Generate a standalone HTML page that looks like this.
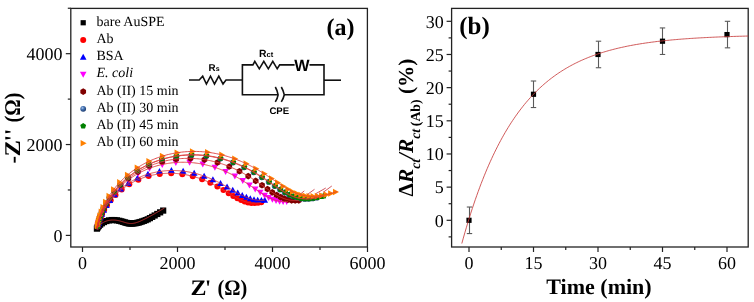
<!DOCTYPE html><html><head><meta charset="utf-8"><style>html,body{margin:0;padding:0;background:#fff;overflow:hidden}svg{display:block;will-change:transform}text{text-rendering:geometricPrecision}</style></head><body><svg width="754" height="302" viewBox="0 0 754 302"><defs><radialGradient id="sph" cx="0.38" cy="0.35" r="0.7"><stop offset="0" stop-color="#b8d0f0"/><stop offset="0.35" stop-color="#4a78b8"/><stop offset="1" stop-color="#183668"/></radialGradient><clipPath id="lc"><rect x="70.8" y="8.4" width="296.59999999999997" height="238.6"/></clipPath><clipPath id="rc"><rect x="451.6" y="8.4" width="296.6" height="238.6"/></clipPath></defs><rect width="754" height="302" fill="#fff"/><g clip-path="url(#lc)"><rect transform="translate(96.92 228.63)" x="-3.1" y="-3.1" width="6.2" height="6.2" fill="#000"/><rect transform="translate(97.69 227.40)" x="-3.1" y="-3.1" width="6.2" height="6.2" fill="#000"/><rect transform="translate(98.74 226.06)" x="-3.1" y="-3.1" width="6.2" height="6.2" fill="#000"/><rect transform="translate(100.12 224.67)" x="-3.1" y="-3.1" width="6.2" height="6.2" fill="#000"/><rect transform="translate(101.86 223.30)" x="-3.1" y="-3.1" width="6.2" height="6.2" fill="#000"/><rect transform="translate(103.97 222.06)" x="-3.1" y="-3.1" width="6.2" height="6.2" fill="#000"/><rect transform="translate(106.39 221.06)" x="-3.1" y="-3.1" width="6.2" height="6.2" fill="#000"/><rect transform="translate(109.03 220.38)" x="-3.1" y="-3.1" width="6.2" height="6.2" fill="#000"/><rect transform="translate(111.75 220.05)" x="-3.1" y="-3.1" width="6.2" height="6.2" fill="#000"/><rect transform="translate(114.43 220.06)" x="-3.1" y="-3.1" width="6.2" height="6.2" fill="#000"/><rect transform="translate(116.96 220.34)" x="-3.1" y="-3.1" width="6.2" height="6.2" fill="#000"/><rect transform="translate(119.27 220.80)" x="-3.1" y="-3.1" width="6.2" height="6.2" fill="#000"/><rect transform="translate(121.36 221.35)" x="-3.1" y="-3.1" width="6.2" height="6.2" fill="#000"/><rect transform="translate(123.22 221.91)" x="-3.1" y="-3.1" width="6.2" height="6.2" fill="#000"/><rect transform="translate(124.90 222.43)" x="-3.1" y="-3.1" width="6.2" height="6.2" fill="#000"/><rect transform="translate(126.43 222.87)" x="-3.1" y="-3.1" width="6.2" height="6.2" fill="#000"/><rect transform="translate(127.86 223.20)" x="-3.1" y="-3.1" width="6.2" height="6.2" fill="#000"/><rect transform="translate(129.21 223.41)" x="-3.1" y="-3.1" width="6.2" height="6.2" fill="#000"/><rect transform="translate(130.52 223.51)" x="-3.1" y="-3.1" width="6.2" height="6.2" fill="#000"/><rect transform="translate(131.82 223.49)" x="-3.1" y="-3.1" width="6.2" height="6.2" fill="#000"/><rect transform="translate(133.13 223.37)" x="-3.1" y="-3.1" width="6.2" height="6.2" fill="#000"/><rect transform="translate(134.46 223.29)" x="-3.1" y="-3.1" width="6.2" height="6.2" fill="#000"/><rect transform="translate(135.84 223.12)" x="-3.1" y="-3.1" width="6.2" height="6.2" fill="#000"/><rect transform="translate(137.28 222.84)" x="-3.1" y="-3.1" width="6.2" height="6.2" fill="#000"/><rect transform="translate(138.78 222.48)" x="-3.1" y="-3.1" width="6.2" height="6.2" fill="#000"/><rect transform="translate(140.36 222.02)" x="-3.1" y="-3.1" width="6.2" height="6.2" fill="#000"/><rect transform="translate(142.04 221.48)" x="-3.1" y="-3.1" width="6.2" height="6.2" fill="#000"/><rect transform="translate(143.82 220.86)" x="-3.1" y="-3.1" width="6.2" height="6.2" fill="#000"/><rect transform="translate(145.71 220.14)" x="-3.1" y="-3.1" width="6.2" height="6.2" fill="#000"/><rect transform="translate(147.73 219.30)" x="-3.1" y="-3.1" width="6.2" height="6.2" fill="#000"/><rect transform="translate(149.89 218.14)" x="-3.1" y="-3.1" width="6.2" height="6.2" fill="#000"/><rect transform="translate(152.20 216.87)" x="-3.1" y="-3.1" width="6.2" height="6.2" fill="#000"/><rect transform="translate(154.67 215.49)" x="-3.1" y="-3.1" width="6.2" height="6.2" fill="#000"/><rect transform="translate(157.31 213.98)" x="-3.1" y="-3.1" width="6.2" height="6.2" fill="#000"/><rect transform="translate(160.14 212.35)" x="-3.1" y="-3.1" width="6.2" height="6.2" fill="#000"/><rect transform="translate(163.18 210.58)" x="-3.1" y="-3.1" width="6.2" height="6.2" fill="#000"/><circle transform="translate(97.57 226.62)" r="3" fill="#f00"/><circle transform="translate(98.02 224.84)" r="3" fill="#f00"/><circle transform="translate(98.63 222.71)" r="3" fill="#f00"/><circle transform="translate(99.45 220.19)" r="3" fill="#f00"/><circle transform="translate(100.58 217.23)" r="3" fill="#f00"/><circle transform="translate(102.11 213.77)" r="3" fill="#f00"/><circle transform="translate(104.18 209.79)" r="3" fill="#f00"/><circle transform="translate(106.98 205.28)" r="3" fill="#f00"/><circle transform="translate(110.68 200.29)" r="3" fill="#f00"/><circle transform="translate(115.53 194.96)" r="3" fill="#f00"/><circle transform="translate(121.69 189.51)" r="3" fill="#f00"/><circle transform="translate(129.31 184.27)" r="3" fill="#f00"/><circle transform="translate(138.37 179.65)" r="3" fill="#f00"/><circle transform="translate(148.65 176.08)" r="3" fill="#f00"/><circle transform="translate(159.77 173.89)" r="3" fill="#f00"/><circle transform="translate(171.19 173.27)" r="3" fill="#f00"/><circle transform="translate(182.33 174.15)" r="3" fill="#f00"/><circle transform="translate(192.74 176.30)" r="3" fill="#f00"/><circle transform="translate(202.11 179.32)" r="3" fill="#f00"/><circle transform="translate(210.31 182.83)" r="3" fill="#f00"/><circle transform="translate(217.39 186.48)" r="3" fill="#f00"/><circle transform="translate(223.46 189.99)" r="3" fill="#f00"/><circle transform="translate(228.71 193.19)" r="3" fill="#f00"/><circle transform="translate(233.29 195.97)" r="3" fill="#f00"/><circle transform="translate(237.39 198.28)" r="3" fill="#f00"/><circle transform="translate(241.14 200.11)" r="3" fill="#f00"/><circle transform="translate(244.66 201.48)" r="3" fill="#f00"/><circle transform="translate(248.04 202.41)" r="3" fill="#f00"/><circle transform="translate(251.37 202.92)" r="3" fill="#f00"/><circle transform="translate(254.69 203.05)" r="3" fill="#f00"/><circle transform="translate(258.08 202.82)" r="3" fill="#f00"/><circle transform="translate(261.25 202.32)" r="3" fill="#f00"/><path transform="translate(98.20 225.23)" d="M0,-3.4 L3.3,2.6 L-3.3,2.6Z" fill="#00f"/><path transform="translate(98.72 223.13)" d="M0,-3.4 L3.3,2.6 L-3.3,2.6Z" fill="#00f"/><path transform="translate(99.44 220.63)" d="M0,-3.4 L3.3,2.6 L-3.3,2.6Z" fill="#00f"/><path transform="translate(100.45 217.66)" d="M0,-3.4 L3.3,2.6 L-3.3,2.6Z" fill="#00f"/><path transform="translate(101.84 214.17)" d="M0,-3.4 L3.3,2.6 L-3.3,2.6Z" fill="#00f"/><path transform="translate(103.75 210.13)" d="M0,-3.4 L3.3,2.6 L-3.3,2.6Z" fill="#00f"/><path transform="translate(106.37 205.51)" d="M0,-3.4 L3.3,2.6 L-3.3,2.6Z" fill="#00f"/><path transform="translate(109.91 200.35)" d="M0,-3.4 L3.3,2.6 L-3.3,2.6Z" fill="#00f"/><path transform="translate(114.60 194.76)" d="M0,-3.4 L3.3,2.6 L-3.3,2.6Z" fill="#00f"/><path transform="translate(120.66 188.97)" d="M0,-3.4 L3.3,2.6 L-3.3,2.6Z" fill="#00f"/><path transform="translate(128.26 183.31)" d="M0,-3.4 L3.3,2.6 L-3.3,2.6Z" fill="#00f"/><path transform="translate(137.42 178.22)" d="M0,-3.4 L3.3,2.6 L-3.3,2.6Z" fill="#00f"/><path transform="translate(147.96 174.15)" d="M0,-3.4 L3.3,2.6 L-3.3,2.6Z" fill="#00f"/><path transform="translate(159.47 171.51)" d="M0,-3.4 L3.3,2.6 L-3.3,2.6Z" fill="#00f"/><path transform="translate(171.40 170.52)" d="M0,-3.4 L3.3,2.6 L-3.3,2.6Z" fill="#00f"/><path transform="translate(183.14 171.13)" d="M0,-3.4 L3.3,2.6 L-3.3,2.6Z" fill="#00f"/><path transform="translate(194.17 173.12)" d="M0,-3.4 L3.3,2.6 L-3.3,2.6Z" fill="#00f"/><path transform="translate(204.14 176.08)" d="M0,-3.4 L3.3,2.6 L-3.3,2.6Z" fill="#00f"/><path transform="translate(212.91 179.60)" d="M0,-3.4 L3.3,2.6 L-3.3,2.6Z" fill="#00f"/><path transform="translate(220.51 183.29)" d="M0,-3.4 L3.3,2.6 L-3.3,2.6Z" fill="#00f"/><path transform="translate(227.06 186.87)" d="M0,-3.4 L3.3,2.6 L-3.3,2.6Z" fill="#00f"/><path transform="translate(232.74 190.14)" d="M0,-3.4 L3.3,2.6 L-3.3,2.6Z" fill="#00f"/><path transform="translate(237.74 193.00)" d="M0,-3.4 L3.3,2.6 L-3.3,2.6Z" fill="#00f"/><path transform="translate(242.24 195.37)" d="M0,-3.4 L3.3,2.6 L-3.3,2.6Z" fill="#00f"/><path transform="translate(246.37 197.27)" d="M0,-3.4 L3.3,2.6 L-3.3,2.6Z" fill="#00f"/><path transform="translate(250.26 198.69)" d="M0,-3.4 L3.3,2.6 L-3.3,2.6Z" fill="#00f"/><path transform="translate(254.01 199.67)" d="M0,-3.4 L3.3,2.6 L-3.3,2.6Z" fill="#00f"/><path transform="translate(257.70 200.23)" d="M0,-3.4 L3.3,2.6 L-3.3,2.6Z" fill="#00f"/><path transform="translate(261.39 200.40)" d="M0,-3.4 L3.3,2.6 L-3.3,2.6Z" fill="#00f"/><path transform="translate(264.73 200.26)" d="M0,-3.4 L3.3,2.6 L-3.3,2.6Z" fill="#00f"/><path transform="translate(97.44 226.64)" d="M0,3.4 L3.3,-2.6 L-3.3,-2.6Z" fill="#f0f"/><path transform="translate(97.86 224.82)" d="M0,3.4 L3.3,-2.6 L-3.3,-2.6Z" fill="#f0f"/><path transform="translate(98.42 222.65)" d="M0,3.4 L3.3,-2.6 L-3.3,-2.6Z" fill="#f0f"/><path transform="translate(99.19 220.05)" d="M0,3.4 L3.3,-2.6 L-3.3,-2.6Z" fill="#f0f"/><path transform="translate(100.23 216.96)" d="M0,3.4 L3.3,-2.6 L-3.3,-2.6Z" fill="#f0f"/><path transform="translate(101.66 213.32)" d="M0,3.4 L3.3,-2.6 L-3.3,-2.6Z" fill="#f0f"/><path transform="translate(103.61 209.08)" d="M0,3.4 L3.3,-2.6 L-3.3,-2.6Z" fill="#f0f"/><path transform="translate(106.25 204.19)" d="M0,3.4 L3.3,-2.6 L-3.3,-2.6Z" fill="#f0f"/><path transform="translate(109.81 198.67)" d="M0,3.4 L3.3,-2.6 L-3.3,-2.6Z" fill="#f0f"/><path transform="translate(114.55 192.60)" d="M0,3.4 L3.3,-2.6 L-3.3,-2.6Z" fill="#f0f"/><path transform="translate(120.72 186.16)" d="M0,3.4 L3.3,-2.6 L-3.3,-2.6Z" fill="#f0f"/><path transform="translate(128.55 179.65)" d="M0,3.4 L3.3,-2.6 L-3.3,-2.6Z" fill="#f0f"/><path transform="translate(138.18 173.52)" d="M0,3.4 L3.3,-2.6 L-3.3,-2.6Z" fill="#f0f"/><path transform="translate(149.52 168.30)" d="M0,3.4 L3.3,-2.6 L-3.3,-2.6Z" fill="#f0f"/><path transform="translate(162.26 164.49)" d="M0,3.4 L3.3,-2.6 L-3.3,-2.6Z" fill="#f0f"/><path transform="translate(175.85 162.50)" d="M0,3.4 L3.3,-2.6 L-3.3,-2.6Z" fill="#f0f"/><path transform="translate(189.59 162.45)" d="M0,3.4 L3.3,-2.6 L-3.3,-2.6Z" fill="#f0f"/><path transform="translate(202.78 164.21)" d="M0,3.4 L3.3,-2.6 L-3.3,-2.6Z" fill="#f0f"/><path transform="translate(214.89 167.40)" d="M0,3.4 L3.3,-2.6 L-3.3,-2.6Z" fill="#f0f"/><path transform="translate(225.62 171.52)" d="M0,3.4 L3.3,-2.6 L-3.3,-2.6Z" fill="#f0f"/><path transform="translate(234.88 176.10)" d="M0,3.4 L3.3,-2.6 L-3.3,-2.6Z" fill="#f0f"/><path transform="translate(242.77 180.72)" d="M0,3.4 L3.3,-2.6 L-3.3,-2.6Z" fill="#f0f"/><path transform="translate(249.47 185.09)" d="M0,3.4 L3.3,-2.6 L-3.3,-2.6Z" fill="#f0f"/><path transform="translate(255.21 189.03)" d="M0,3.4 L3.3,-2.6 L-3.3,-2.6Z" fill="#f0f"/><path transform="translate(260.19 192.43)" d="M0,3.4 L3.3,-2.6 L-3.3,-2.6Z" fill="#f0f"/><path transform="translate(264.62 195.27)" d="M0,3.4 L3.3,-2.6 L-3.3,-2.6Z" fill="#f0f"/><path transform="translate(268.66 197.54)" d="M0,3.4 L3.3,-2.6 L-3.3,-2.6Z" fill="#f0f"/><path transform="translate(272.43 199.28)" d="M0,3.4 L3.3,-2.6 L-3.3,-2.6Z" fill="#f0f"/><path transform="translate(276.05 200.51)" d="M0,3.4 L3.3,-2.6 L-3.3,-2.6Z" fill="#f0f"/><path transform="translate(279.59 201.29)" d="M0,3.4 L3.3,-2.6 L-3.3,-2.6Z" fill="#f0f"/><path transform="translate(283.12 201.64)" d="M0,3.4 L3.3,-2.6 L-3.3,-2.6Z" fill="#f0f"/><path transform="translate(286.71 201.61)" d="M0,3.4 L3.3,-2.6 L-3.3,-2.6Z" fill="#f0f"/><path transform="translate(97.66 226.38)" d="M0,-3.3 L2.85,-1.65 L2.85,1.65 L0,3.3 L-2.85,1.65 L-2.85,-1.65Z" fill="#800000"/><path transform="translate(98.08 224.54)" d="M0,-3.3 L2.85,-1.65 L2.85,1.65 L0,3.3 L-2.85,1.65 L-2.85,-1.65Z" fill="#800000"/><path transform="translate(98.66 222.33)" d="M0,-3.3 L2.85,-1.65 L2.85,1.65 L0,3.3 L-2.85,1.65 L-2.85,-1.65Z" fill="#800000"/><path transform="translate(99.43 219.70)" d="M0,-3.3 L2.85,-1.65 L2.85,1.65 L0,3.3 L-2.85,1.65 L-2.85,-1.65Z" fill="#800000"/><path transform="translate(100.48 216.58)" d="M0,-3.3 L2.85,-1.65 L2.85,1.65 L0,3.3 L-2.85,1.65 L-2.85,-1.65Z" fill="#800000"/><path transform="translate(101.90 212.91)" d="M0,-3.3 L2.85,-1.65 L2.85,1.65 L0,3.3 L-2.85,1.65 L-2.85,-1.65Z" fill="#800000"/><path transform="translate(103.82 208.62)" d="M0,-3.3 L2.85,-1.65 L2.85,1.65 L0,3.3 L-2.85,1.65 L-2.85,-1.65Z" fill="#800000"/><path transform="translate(106.43 203.68)" d="M0,-3.3 L2.85,-1.65 L2.85,1.65 L0,3.3 L-2.85,1.65 L-2.85,-1.65Z" fill="#800000"/><path transform="translate(109.92 198.09)" d="M0,-3.3 L2.85,-1.65 L2.85,1.65 L0,3.3 L-2.85,1.65 L-2.85,-1.65Z" fill="#800000"/><path transform="translate(114.56 191.90)" d="M0,-3.3 L2.85,-1.65 L2.85,1.65 L0,3.3 L-2.85,1.65 L-2.85,-1.65Z" fill="#800000"/><path transform="translate(120.60 185.27)" d="M0,-3.3 L2.85,-1.65 L2.85,1.65 L0,3.3 L-2.85,1.65 L-2.85,-1.65Z" fill="#800000"/><path transform="translate(128.31 178.49)" d="M0,-3.3 L2.85,-1.65 L2.85,1.65 L0,3.3 L-2.85,1.65 L-2.85,-1.65Z" fill="#800000"/><path transform="translate(137.84 171.96)" d="M0,-3.3 L2.85,-1.65 L2.85,1.65 L0,3.3 L-2.85,1.65 L-2.85,-1.65Z" fill="#800000"/><path transform="translate(149.18 166.20)" d="M0,-3.3 L2.85,-1.65 L2.85,1.65 L0,3.3 L-2.85,1.65 L-2.85,-1.65Z" fill="#800000"/><path transform="translate(162.08 161.75)" d="M0,-3.3 L2.85,-1.65 L2.85,1.65 L0,3.3 L-2.85,1.65 L-2.85,-1.65Z" fill="#800000"/><path transform="translate(176.06 159.06)" d="M0,-3.3 L2.85,-1.65 L2.85,1.65 L0,3.3 L-2.85,1.65 L-2.85,-1.65Z" fill="#800000"/><path transform="translate(190.42 158.37)" d="M0,-3.3 L2.85,-1.65 L2.85,1.65 L0,3.3 L-2.85,1.65 L-2.85,-1.65Z" fill="#800000"/><path transform="translate(204.45 159.63)" d="M0,-3.3 L2.85,-1.65 L2.85,1.65 L0,3.3 L-2.85,1.65 L-2.85,-1.65Z" fill="#800000"/><path transform="translate(217.54 162.51)" d="M0,-3.3 L2.85,-1.65 L2.85,1.65 L0,3.3 L-2.85,1.65 L-2.85,-1.65Z" fill="#800000"/><path transform="translate(229.27 166.55)" d="M0,-3.3 L2.85,-1.65 L2.85,1.65 L0,3.3 L-2.85,1.65 L-2.85,-1.65Z" fill="#800000"/><path transform="translate(239.50 171.25)" d="M0,-3.3 L2.85,-1.65 L2.85,1.65 L0,3.3 L-2.85,1.65 L-2.85,-1.65Z" fill="#800000"/><path transform="translate(248.25 176.13)" d="M0,-3.3 L2.85,-1.65 L2.85,1.65 L0,3.3 L-2.85,1.65 L-2.85,-1.65Z" fill="#800000"/><path transform="translate(255.69 180.87)" d="M0,-3.3 L2.85,-1.65 L2.85,1.65 L0,3.3 L-2.85,1.65 L-2.85,-1.65Z" fill="#800000"/><path transform="translate(262.02 185.23)" d="M0,-3.3 L2.85,-1.65 L2.85,1.65 L0,3.3 L-2.85,1.65 L-2.85,-1.65Z" fill="#800000"/><path transform="translate(267.48 189.06)" d="M0,-3.3 L2.85,-1.65 L2.85,1.65 L0,3.3 L-2.85,1.65 L-2.85,-1.65Z" fill="#800000"/><path transform="translate(272.28 192.33)" d="M0,-3.3 L2.85,-1.65 L2.85,1.65 L0,3.3 L-2.85,1.65 L-2.85,-1.65Z" fill="#800000"/><path transform="translate(276.59 195.00)" d="M0,-3.3 L2.85,-1.65 L2.85,1.65 L0,3.3 L-2.85,1.65 L-2.85,-1.65Z" fill="#800000"/><path transform="translate(280.57 197.10)" d="M0,-3.3 L2.85,-1.65 L2.85,1.65 L0,3.3 L-2.85,1.65 L-2.85,-1.65Z" fill="#800000"/><path transform="translate(284.34 198.67)" d="M0,-3.3 L2.85,-1.65 L2.85,1.65 L0,3.3 L-2.85,1.65 L-2.85,-1.65Z" fill="#800000"/><path transform="translate(287.99 199.74)" d="M0,-3.3 L2.85,-1.65 L2.85,1.65 L0,3.3 L-2.85,1.65 L-2.85,-1.65Z" fill="#800000"/><path transform="translate(291.59 200.35)" d="M0,-3.3 L2.85,-1.65 L2.85,1.65 L0,3.3 L-2.85,1.65 L-2.85,-1.65Z" fill="#800000"/><path transform="translate(295.21 200.56)" d="M0,-3.3 L2.85,-1.65 L2.85,1.65 L0,3.3 L-2.85,1.65 L-2.85,-1.65Z" fill="#800000"/><path transform="translate(298.79 200.39)" d="M0,-3.3 L2.85,-1.65 L2.85,1.65 L0,3.3 L-2.85,1.65 L-2.85,-1.65Z" fill="#800000"/><circle transform="translate(97.34 226.45)" r="2.9" fill="url(#sph)"/><circle transform="translate(97.76 224.60)" r="2.9" fill="url(#sph)"/><circle transform="translate(98.33 222.40)" r="2.9" fill="url(#sph)"/><circle transform="translate(99.09 219.76)" r="2.9" fill="url(#sph)"/><circle transform="translate(100.13 216.63)" r="2.9" fill="url(#sph)"/><circle transform="translate(101.53 212.93)" r="2.9" fill="url(#sph)"/><circle transform="translate(103.42 208.60)" r="2.9" fill="url(#sph)"/><circle transform="translate(105.99 203.59)" r="2.9" fill="url(#sph)"/><circle transform="translate(109.43 197.89)" r="2.9" fill="url(#sph)"/><circle transform="translate(114.02 191.54)" r="2.9" fill="url(#sph)"/><circle transform="translate(120.03 184.70)" r="2.9" fill="url(#sph)"/><circle transform="translate(127.72 177.61)" r="2.9" fill="url(#sph)"/><circle transform="translate(137.30 170.68)" r="2.9" fill="url(#sph)"/><circle transform="translate(148.79 164.43)" r="2.9" fill="url(#sph)"/><circle transform="translate(162.01 159.43)" r="2.9" fill="url(#sph)"/><circle transform="translate(176.47 156.19)" r="2.9" fill="url(#sph)"/><circle transform="translate(191.50 155.00)" r="2.9" fill="url(#sph)"/><circle transform="translate(206.35 155.88)" r="2.9" fill="url(#sph)"/><circle transform="translate(220.33 158.53)" r="2.9" fill="url(#sph)"/><circle transform="translate(232.97 162.51)" r="2.9" fill="url(#sph)"/><circle transform="translate(244.07 167.28)" r="2.9" fill="url(#sph)"/><circle transform="translate(253.61 172.34)" r="2.9" fill="url(#sph)"/><circle transform="translate(261.74 177.31)" r="2.9" fill="url(#sph)"/><circle transform="translate(268.67 181.94)" r="2.9" fill="url(#sph)"/><circle transform="translate(274.65 186.05)" r="2.9" fill="url(#sph)"/><circle transform="translate(279.89 189.57)" r="2.9" fill="url(#sph)"/><circle transform="translate(284.59 192.48)" r="2.9" fill="url(#sph)"/><circle transform="translate(288.91 194.80)" r="2.9" fill="url(#sph)"/><circle transform="translate(292.98 196.56)" r="2.9" fill="url(#sph)"/><circle transform="translate(296.90 197.80)" r="2.9" fill="url(#sph)"/><circle transform="translate(300.77 198.56)" r="2.9" fill="url(#sph)"/><circle transform="translate(304.63 198.89)" r="2.9" fill="url(#sph)"/><circle transform="translate(308.55 198.83)" r="2.9" fill="url(#sph)"/><circle transform="translate(312.58 198.40)" r="2.9" fill="url(#sph)"/><circle transform="translate(316.75 197.63)" r="2.9" fill="url(#sph)"/><path transform="translate(97.34 226.45)" d="M0,-3.1 L2.95,-0.96 L1.82,2.5 L-1.82,2.5 L-2.95,-0.96Z" fill="#008000"/><path transform="translate(97.76 224.60)" d="M0,-3.1 L2.95,-0.96 L1.82,2.5 L-1.82,2.5 L-2.95,-0.96Z" fill="#008000"/><path transform="translate(98.33 222.39)" d="M0,-3.1 L2.95,-0.96 L1.82,2.5 L-1.82,2.5 L-2.95,-0.96Z" fill="#008000"/><path transform="translate(99.09 219.76)" d="M0,-3.1 L2.95,-0.96 L1.82,2.5 L-1.82,2.5 L-2.95,-0.96Z" fill="#008000"/><path transform="translate(100.12 216.62)" d="M0,-3.1 L2.95,-0.96 L1.82,2.5 L-1.82,2.5 L-2.95,-0.96Z" fill="#008000"/><path transform="translate(101.52 212.92)" d="M0,-3.1 L2.95,-0.96 L1.82,2.5 L-1.82,2.5 L-2.95,-0.96Z" fill="#008000"/><path transform="translate(103.41 208.59)" d="M0,-3.1 L2.95,-0.96 L1.82,2.5 L-1.82,2.5 L-2.95,-0.96Z" fill="#008000"/><path transform="translate(105.97 203.57)" d="M0,-3.1 L2.95,-0.96 L1.82,2.5 L-1.82,2.5 L-2.95,-0.96Z" fill="#008000"/><path transform="translate(109.41 197.86)" d="M0,-3.1 L2.95,-0.96 L1.82,2.5 L-1.82,2.5 L-2.95,-0.96Z" fill="#008000"/><path transform="translate(113.98 191.51)" d="M0,-3.1 L2.95,-0.96 L1.82,2.5 L-1.82,2.5 L-2.95,-0.96Z" fill="#008000"/><path transform="translate(119.98 184.64)" d="M0,-3.1 L2.95,-0.96 L1.82,2.5 L-1.82,2.5 L-2.95,-0.96Z" fill="#008000"/><path transform="translate(127.67 177.53)" d="M0,-3.1 L2.95,-0.96 L1.82,2.5 L-1.82,2.5 L-2.95,-0.96Z" fill="#008000"/><path transform="translate(137.25 170.56)" d="M0,-3.1 L2.95,-0.96 L1.82,2.5 L-1.82,2.5 L-2.95,-0.96Z" fill="#008000"/><path transform="translate(148.75 164.27)" d="M0,-3.1 L2.95,-0.96 L1.82,2.5 L-1.82,2.5 L-2.95,-0.96Z" fill="#008000"/><path transform="translate(161.99 159.23)" d="M0,-3.1 L2.95,-0.96 L1.82,2.5 L-1.82,2.5 L-2.95,-0.96Z" fill="#008000"/><path transform="translate(176.49 155.94)" d="M0,-3.1 L2.95,-0.96 L1.82,2.5 L-1.82,2.5 L-2.95,-0.96Z" fill="#008000"/><path transform="translate(191.57 154.71)" d="M0,-3.1 L2.95,-0.96 L1.82,2.5 L-1.82,2.5 L-2.95,-0.96Z" fill="#008000"/><path transform="translate(206.49 155.55)" d="M0,-3.1 L2.95,-0.96 L1.82,2.5 L-1.82,2.5 L-2.95,-0.96Z" fill="#008000"/><path transform="translate(220.54 158.19)" d="M0,-3.1 L2.95,-0.96 L1.82,2.5 L-1.82,2.5 L-2.95,-0.96Z" fill="#008000"/><path transform="translate(233.27 162.17)" d="M0,-3.1 L2.95,-0.96 L1.82,2.5 L-1.82,2.5 L-2.95,-0.96Z" fill="#008000"/><path transform="translate(244.43 166.95)" d="M0,-3.1 L2.95,-0.96 L1.82,2.5 L-1.82,2.5 L-2.95,-0.96Z" fill="#008000"/><path transform="translate(254.03 172.03)" d="M0,-3.1 L2.95,-0.96 L1.82,2.5 L-1.82,2.5 L-2.95,-0.96Z" fill="#008000"/><path transform="translate(262.21 177.03)" d="M0,-3.1 L2.95,-0.96 L1.82,2.5 L-1.82,2.5 L-2.95,-0.96Z" fill="#008000"/><path transform="translate(269.19 181.69)" d="M0,-3.1 L2.95,-0.96 L1.82,2.5 L-1.82,2.5 L-2.95,-0.96Z" fill="#008000"/><path transform="translate(275.20 185.83)" d="M0,-3.1 L2.95,-0.96 L1.82,2.5 L-1.82,2.5 L-2.95,-0.96Z" fill="#008000"/><path transform="translate(280.46 189.38)" d="M0,-3.1 L2.95,-0.96 L1.82,2.5 L-1.82,2.5 L-2.95,-0.96Z" fill="#008000"/><path transform="translate(285.18 192.32)" d="M0,-3.1 L2.95,-0.96 L1.82,2.5 L-1.82,2.5 L-2.95,-0.96Z" fill="#008000"/><path transform="translate(289.52 194.67)" d="M0,-3.1 L2.95,-0.96 L1.82,2.5 L-1.82,2.5 L-2.95,-0.96Z" fill="#008000"/><path transform="translate(293.60 196.44)" d="M0,-3.1 L2.95,-0.96 L1.82,2.5 L-1.82,2.5 L-2.95,-0.96Z" fill="#008000"/><path transform="translate(297.54 197.70)" d="M0,-3.1 L2.95,-0.96 L1.82,2.5 L-1.82,2.5 L-2.95,-0.96Z" fill="#008000"/><path transform="translate(301.40 198.48)" d="M0,-3.1 L2.95,-0.96 L1.82,2.5 L-1.82,2.5 L-2.95,-0.96Z" fill="#008000"/><path transform="translate(305.28 198.82)" d="M0,-3.1 L2.95,-0.96 L1.82,2.5 L-1.82,2.5 L-2.95,-0.96Z" fill="#008000"/><path transform="translate(309.20 198.77)" d="M0,-3.1 L2.95,-0.96 L1.82,2.5 L-1.82,2.5 L-2.95,-0.96Z" fill="#008000"/><path transform="translate(313.23 198.35)" d="M0,-3.1 L2.95,-0.96 L1.82,2.5 L-1.82,2.5 L-2.95,-0.96Z" fill="#008000"/><path transform="translate(317.40 197.59)" d="M0,-3.1 L2.95,-0.96 L1.82,2.5 L-1.82,2.5 L-2.95,-0.96Z" fill="#008000"/><path transform="translate(321.75 196.52)" d="M0,-3.1 L2.95,-0.96 L1.82,2.5 L-1.82,2.5 L-2.95,-0.96Z" fill="#008000"/><path transform="translate(323.81 195.92)" d="M0,-3.1 L2.95,-0.96 L1.82,2.5 L-1.82,2.5 L-2.95,-0.96Z" fill="#008000"/><path transform="translate(97.32 225.95)" d="M3.4,0 L-2.6,3.3 L-2.6,-3.3Z" fill="#ff8000"/><path transform="translate(97.70 224.02)" d="M3.4,0 L-2.6,3.3 L-2.6,-3.3Z" fill="#ff8000"/><path transform="translate(98.22 221.71)" d="M3.4,0 L-2.6,3.3 L-2.6,-3.3Z" fill="#ff8000"/><path transform="translate(98.93 218.96)" d="M3.4,0 L-2.6,3.3 L-2.6,-3.3Z" fill="#ff8000"/><path transform="translate(99.91 215.69)" d="M3.4,0 L-2.6,3.3 L-2.6,-3.3Z" fill="#ff8000"/><path transform="translate(101.26 211.82)" d="M3.4,0 L-2.6,3.3 L-2.6,-3.3Z" fill="#ff8000"/><path transform="translate(103.11 207.31)" d="M3.4,0 L-2.6,3.3 L-2.6,-3.3Z" fill="#ff8000"/><path transform="translate(105.64 202.08)" d="M3.4,0 L-2.6,3.3 L-2.6,-3.3Z" fill="#ff8000"/><path transform="translate(109.07 196.14)" d="M3.4,0 L-2.6,3.3 L-2.6,-3.3Z" fill="#ff8000"/><path transform="translate(113.67 189.53)" d="M3.4,0 L-2.6,3.3 L-2.6,-3.3Z" fill="#ff8000"/><path transform="translate(119.73 182.40)" d="M3.4,0 L-2.6,3.3 L-2.6,-3.3Z" fill="#ff8000"/><path transform="translate(127.53 175.02)" d="M3.4,0 L-2.6,3.3 L-2.6,-3.3Z" fill="#ff8000"/><path transform="translate(137.27 167.82)" d="M3.4,0 L-2.6,3.3 L-2.6,-3.3Z" fill="#ff8000"/><path transform="translate(148.98 161.32)" d="M3.4,0 L-2.6,3.3 L-2.6,-3.3Z" fill="#ff8000"/><path transform="translate(162.45 156.12)" d="M3.4,0 L-2.6,3.3 L-2.6,-3.3Z" fill="#ff8000"/><path transform="translate(177.19 152.73)" d="M3.4,0 L-2.6,3.3 L-2.6,-3.3Z" fill="#ff8000"/><path transform="translate(192.51 151.44)" d="M3.4,0 L-2.6,3.3 L-2.6,-3.3Z" fill="#ff8000"/><path transform="translate(207.63 152.26)" d="M3.4,0 L-2.6,3.3 L-2.6,-3.3Z" fill="#ff8000"/><path transform="translate(221.88 154.89)" d="M3.4,0 L-2.6,3.3 L-2.6,-3.3Z" fill="#ff8000"/><path transform="translate(234.79 158.87)" d="M3.4,0 L-2.6,3.3 L-2.6,-3.3Z" fill="#ff8000"/><path transform="translate(246.14 163.66)" d="M3.4,0 L-2.6,3.3 L-2.6,-3.3Z" fill="#ff8000"/><path transform="translate(255.92 168.76)" d="M3.4,0 L-2.6,3.3 L-2.6,-3.3Z" fill="#ff8000"/><path transform="translate(264.29 173.79)" d="M3.4,0 L-2.6,3.3 L-2.6,-3.3Z" fill="#ff8000"/><path transform="translate(271.46 178.47)" d="M3.4,0 L-2.6,3.3 L-2.6,-3.3Z" fill="#ff8000"/><path transform="translate(277.67 182.66)" d="M3.4,0 L-2.6,3.3 L-2.6,-3.3Z" fill="#ff8000"/><path transform="translate(283.14 186.27)" d="M3.4,0 L-2.6,3.3 L-2.6,-3.3Z" fill="#ff8000"/><path transform="translate(288.06 189.28)" d="M3.4,0 L-2.6,3.3 L-2.6,-3.3Z" fill="#ff8000"/><path transform="translate(292.59 191.70)" d="M3.4,0 L-2.6,3.3 L-2.6,-3.3Z" fill="#ff8000"/><path transform="translate(296.87 193.57)" d="M3.4,0 L-2.6,3.3 L-2.6,-3.3Z" fill="#ff8000"/><path transform="translate(301.00 194.93)" d="M3.4,0 L-2.6,3.3 L-2.6,-3.3Z" fill="#ff8000"/><path transform="translate(305.05 195.82)" d="M3.4,0 L-2.6,3.3 L-2.6,-3.3Z" fill="#ff8000"/><path transform="translate(309.09 196.29)" d="M3.4,0 L-2.6,3.3 L-2.6,-3.3Z" fill="#ff8000"/><path transform="translate(313.18 196.38)" d="M3.4,0 L-2.6,3.3 L-2.6,-3.3Z" fill="#ff8000"/><path transform="translate(317.35 196.11)" d="M3.4,0 L-2.6,3.3 L-2.6,-3.3Z" fill="#ff8000"/><path transform="translate(321.65 195.52)" d="M3.4,0 L-2.6,3.3 L-2.6,-3.3Z" fill="#ff8000"/><path transform="translate(326.10 194.64)" d="M3.4,0 L-2.6,3.3 L-2.6,-3.3Z" fill="#ff8000"/><path transform="translate(330.73 193.48)" d="M3.4,0 L-2.6,3.3 L-2.6,-3.3Z" fill="#ff8000"/><path transform="translate(335.58 192.06)" d="M3.4,0 L-2.6,3.3 L-2.6,-3.3Z" fill="#ff8000"/><path d="M96.92,228.63 L96.98,228.52 L97.04,228.42 L97.10,228.31 L97.17,228.21 L97.23,228.10 L97.30,227.99 L97.37,227.88 L97.44,227.77 L97.52,227.66 L97.59,227.54 L97.67,227.43 L97.75,227.32 L97.84,227.20 L97.92,227.08 L98.01,226.97 L98.10,226.85 L98.19,226.73 L98.28,226.61 L98.38,226.49 L98.48,226.37 L98.58,226.25 L98.68,226.13 L98.79,226.01 L98.90,225.88 L99.01,225.76 L99.13,225.64 L99.24,225.51 L99.36,225.39 L99.49,225.27 L99.61,225.14 L99.74,225.02 L99.87,224.90 L100.01,224.77 L100.14,224.65 L100.28,224.52 L100.42,224.40 L100.57,224.28 L100.72,224.15 L100.87,224.03 L101.02,223.91 L101.18,223.79 L101.34,223.67 L101.51,223.55 L101.67,223.43 L101.84,223.31 L102.01,223.20 L102.19,223.08 L102.37,222.97 L102.55,222.85 L102.73,222.74 L102.92,222.63 L103.10,222.52 L103.30,222.42 L103.49,222.31 L103.69,222.21 L103.89,222.10 L104.09,222.00 L104.29,221.90 L104.50,221.81 L104.71,221.71 L104.92,221.62 L105.14,221.53 L105.35,221.44 L105.57,221.36 L105.79,221.27 L106.01,221.19 L106.24,221.11 L106.46,221.04 L106.69,220.96 L106.92,220.89 L107.15,220.83 L107.38,220.76 L107.62,220.70 L107.85,220.64 L108.09,220.58 L108.32,220.52 L108.56,220.47 L108.80,220.42 L109.04,220.38 L109.28,220.33 L109.52,220.29 L109.76,220.26 L110.00,220.22 L110.25,220.19 L110.49,220.16 L110.73,220.13 L110.97,220.11 L111.21,220.09 L111.46,220.07 L111.70,220.06 L111.94,220.04 L112.18,220.03 L112.42,220.03 L112.66,220.02 L112.90,220.02 L113.14,220.02 L113.37,220.02 L113.61,220.03 L113.85,220.03 L114.08,220.04 L114.31,220.06 L114.55,220.07 L114.78,220.09 L115.01,220.10 L115.24,220.12 L115.46,220.15 L115.69,220.17 L115.91,220.20 L116.13,220.22 L116.35,220.25 L116.57,220.28 L116.79,220.32 L117.01,220.35 L117.22,220.39 L117.43,220.42 L117.64,220.46 L117.85,220.50 L118.06,220.54 L118.26,220.58 L118.47,220.62 L118.67,220.67 L118.87,220.71 L119.07,220.75 L119.26,220.80 L119.46,220.85 L119.65,220.89 L119.84,220.94 L120.03,220.99 L120.22,221.04 L120.40,221.09 L120.58,221.14 L120.76,221.19 L120.94,221.24 L121.12,221.29 L121.30,221.34 L121.47,221.39 L121.65,221.44 L121.82,221.49 L121.99,221.54 L122.15,221.59 L122.32,221.64 L122.48,221.69 L122.65,221.74 L122.81,221.79 L122.97,221.84 L123.13,221.88 L123.28,221.93 L123.44,221.98 L123.59,222.03 L123.74,222.08 L123.89,222.12 L124.04,222.17 L124.19,222.21 L124.34,222.26 L124.49,222.30 L124.63,222.35 L124.77,222.39 L124.92,222.44 L125.06,222.48 L125.20,222.52 L125.34,222.56 L125.47,222.60 L125.61,222.64 L125.75,222.68 L125.88,222.72 L126.01,222.75 L126.15,222.79 L126.28,222.82 L126.41,222.86 L126.54,222.89 L126.67,222.93 L126.80,222.96 L126.93,222.99 L127.05,223.02 L127.18,223.05 L127.30,223.08 L127.43,223.11 L127.55,223.13 L127.68,223.16 L127.80,223.18 L127.92,223.21 L128.05,223.23 L128.17,223.25 L128.29,223.28 L128.41,223.30 L128.53,223.32 L128.65,223.33 L128.77,223.35 L128.89,223.37 L129.00,223.39 L129.12,223.40 L129.24,223.41 L129.36,223.43 L129.48,223.44 L129.59,223.45 L129.71,223.46 L129.83,223.47 L129.94,223.48 L130.06,223.49 L130.17,223.49 L130.29,223.50 L130.41,223.50 L130.52,223.51 L130.64,223.51 L130.75,223.51 L130.87,223.51 L130.98,223.51 L131.10,223.51 L131.21,223.51 L131.33,223.51 L131.44,223.51 L131.56,223.50 L131.67,223.50 L131.79,223.49 L131.90,223.48 L132.02,223.48 L132.13,223.47 L132.25,223.46 L132.37,223.45 L132.48,223.43 L132.60,223.42 L132.71,223.41 L132.83,223.39 L132.95,223.38 L133.06,223.36 L133.18,223.35 L133.30,223.33 L133.41,223.31 L133.53,223.29 L133.65,223.27 L133.77,223.25 L133.89,223.23 L134.00,223.21 L134.12,223.18 L134.24,223.16 L134.36,223.13 L134.48,223.11 L134.60,223.08 L134.72,223.05 L134.84,223.02 L134.97,222.99 L135.09,222.96 L135.21,222.93 L135.33,222.90 L135.45,222.87 L135.58,222.84 L135.70,222.80 L135.83,222.77 L135.95,222.73 L136.08,222.69 L136.20,222.66 L136.33,222.62 L136.45,222.58 L136.58,222.54 L136.71,222.50 L136.84,222.46 L136.97,222.41 L137.09,222.37 L137.22,222.33 L137.35,222.28 L137.48,222.24 L137.62,222.19 L137.75,222.14 L137.88,222.10 L138.01,222.05 L138.15,222.00 L138.28,221.95 L138.42,221.90 L138.55,221.84 L138.69,221.79 L138.82,221.74 L138.96,221.68 L139.10,221.63 L139.24,221.57 L139.38,221.52 L139.52,221.46 L139.66,221.40 L139.80,221.34 L139.94,221.28 L140.08,221.22 L140.23,221.16 L140.37,221.10 L140.52,221.04 L140.66,220.97 L140.81,220.91 L140.95,220.85 L141.10,220.78 L141.25,220.71 L141.40,220.65 L141.55,220.58 L141.70,220.51 L141.85,220.44 L142.01,220.37 L142.16,220.30 L142.31,220.23 L142.47,220.15 L142.62,220.08 L142.78,220.01 L142.94,219.93 L143.10,219.86 L143.26,219.78 L143.42,219.70 L143.58,219.62 L143.74,219.54 L143.90,219.46 L144.06,219.38 L144.23,219.30 L144.39,219.22 L144.56,219.14 L144.73,219.05 L144.90,218.97 L145.07,218.88 L145.24,218.80 L145.41,218.71 L145.58,218.62 L145.75,218.53 L145.93,218.45 L146.10,218.36 L146.28,218.26 L146.45,218.17 L146.63,218.08 L146.81,217.99 L146.99,217.89 L147.17,217.80 L147.35,217.70 L147.54,217.60 L147.72,217.51 L147.91,217.41 L148.09,217.31 L148.28,217.21 L148.47,217.11 L148.66,217.01 L148.85,216.90 L149.04,216.80 L149.24,216.70 L149.43,216.59 L149.63,216.49 L149.82,216.38 L150.02,216.27 L150.22,216.16 L150.42,216.05 L150.62,215.94 L150.82,215.83 L151.03,215.72 L151.23,215.61 L151.44,215.49 L151.65,215.38 L151.86,215.26 L152.07,215.15 L152.28,215.03 L152.49,214.91 L152.70,214.79 L152.92,214.67 L153.14,214.55 L153.35,214.43 L153.57,214.30 L153.79,214.18 L154.01,214.06 L154.24,213.93 L154.46,213.80 L154.69,213.68 L154.91,213.55 L155.14,213.42 L155.37,213.29 L155.60,213.16 L155.84,213.02 L156.07,212.89 L156.31,212.76 L156.54,212.62 L156.78,212.48 L157.02,212.35 L157.26,212.21 L157.51,212.07 L157.75,211.93 L158.00,211.79 L158.25,211.64 L158.49,211.50 L158.75,211.36 L159.00,211.21 L159.25,211.06 L159.51,210.92 L159.76,210.77 L160.02,210.62 L160.28,210.47 L160.54,210.32 L160.81,210.16 L161.07,210.01 L161.34,209.85 L161.61,209.70 L161.88,209.54 L162.15,209.38 L162.42,209.22 L162.70,209.06 L162.97,208.90 L163.25,208.74 L163.53,208.57 L163.81,208.41 L164.10,208.24 L164.38,208.08" fill="none" stroke="#dc3a3a" stroke-width="0.9"/><path d="M97.18,228.39 L97.21,228.27 L97.23,228.15 L97.26,228.03 L97.28,227.91 L97.31,227.78 L97.34,227.66 L97.36,227.53 L97.39,227.40 L97.42,227.26 L97.45,227.13 L97.49,226.99 L97.52,226.85 L97.55,226.71 L97.58,226.57 L97.62,226.42 L97.66,226.27 L97.69,226.12 L97.73,225.97 L97.77,225.81 L97.81,225.65 L97.85,225.49 L97.89,225.33 L97.93,225.16 L97.98,224.99 L98.02,224.82 L98.07,224.65 L98.12,224.47 L98.17,224.29 L98.22,224.11 L98.27,223.92 L98.33,223.73 L98.38,223.54 L98.44,223.35 L98.50,223.15 L98.55,222.95 L98.62,222.75 L98.68,222.54 L98.74,222.33 L98.81,222.12 L98.88,221.91 L98.95,221.69 L99.02,221.46 L99.10,221.24 L99.17,221.01 L99.25,220.78 L99.33,220.54 L99.42,220.30 L99.50,220.06 L99.59,219.81 L99.68,219.56 L99.77,219.31 L99.87,219.05 L99.96,218.79 L100.07,218.53 L100.17,218.26 L100.27,217.99 L100.38,217.71 L100.50,217.43 L100.61,217.15 L100.73,216.86 L100.85,216.57 L100.98,216.27 L101.11,215.98 L101.24,215.67 L101.37,215.36 L101.51,215.05 L101.66,214.74 L101.80,214.42 L101.96,214.09 L102.11,213.77 L102.27,213.43 L102.44,213.10 L102.60,212.76 L102.78,212.41 L102.96,212.06 L103.14,211.71 L103.33,211.35 L103.52,210.99 L103.72,210.63 L103.92,210.26 L104.13,209.88 L104.35,209.50 L104.57,209.12 L104.79,208.73 L105.02,208.34 L105.26,207.95 L105.51,207.55 L105.76,207.15 L106.01,206.74 L106.28,206.33 L106.55,205.91 L106.83,205.50 L107.11,205.07 L107.41,204.65 L107.71,204.22 L108.01,203.78 L108.33,203.35 L108.65,202.91 L108.98,202.46 L109.32,202.02 L109.67,201.56 L110.03,201.11 L110.39,200.65 L110.76,200.20 L111.15,199.73 L111.54,199.27 L111.94,198.80 L112.35,198.33 L112.77,197.86 L113.20,197.39 L113.64,196.91 L114.09,196.43 L114.55,195.95 L115.02,195.47 L115.50,194.99 L115.99,194.51 L116.49,194.02 L117.00,193.54 L117.52,193.05 L118.06,192.57 L118.60,192.09 L119.16,191.60 L119.73,191.12 L120.30,190.63 L120.89,190.15 L121.50,189.67 L122.11,189.19 L122.73,188.71 L123.37,188.24 L124.02,187.76 L124.68,187.29 L125.35,186.82 L126.03,186.36 L126.72,185.90 L127.43,185.44 L128.15,184.99 L128.87,184.54 L129.61,184.09 L130.37,183.65 L131.13,183.22 L131.90,182.79 L132.69,182.37 L133.49,181.95 L134.29,181.54 L135.11,181.14 L135.94,180.74 L136.78,180.35 L137.63,179.97 L138.49,179.60 L139.35,179.24 L140.23,178.88 L141.12,178.53 L142.02,178.20 L142.92,177.87 L143.84,177.55 L144.76,177.24 L145.69,176.94 L146.63,176.65 L147.57,176.38 L148.53,176.11 L149.49,175.85 L150.45,175.61 L151.42,175.38 L152.40,175.16 L153.38,174.95 L154.37,174.75 L155.36,174.56 L156.36,174.39 L157.36,174.23 L158.36,174.08 L159.37,173.94 L160.38,173.82 L161.39,173.71 L162.40,173.61 L163.41,173.52 L164.43,173.45 L165.44,173.38 L166.46,173.34 L167.47,173.30 L168.49,173.27 L169.50,173.26 L170.51,173.26 L171.52,173.27 L172.53,173.30 L173.53,173.33 L174.53,173.38 L175.53,173.44 L176.53,173.51 L177.52,173.59 L178.50,173.69 L179.48,173.79 L180.46,173.90 L181.43,174.03 L182.40,174.16 L183.35,174.31 L184.31,174.46 L185.25,174.63 L186.19,174.80 L187.13,174.98 L188.05,175.17 L188.97,175.37 L189.88,175.58 L190.78,175.80 L191.68,176.02 L192.56,176.25 L193.44,176.49 L194.31,176.73 L195.17,176.98 L196.02,177.24 L196.87,177.50 L197.70,177.77 L198.53,178.04 L199.34,178.32 L200.15,178.60 L200.95,178.89 L201.74,179.18 L202.52,179.48 L203.29,179.78 L204.05,180.08 L204.80,180.39 L205.54,180.70 L206.28,181.01 L207.00,181.32 L207.72,181.64 L208.42,181.95 L209.12,182.27 L209.81,182.59 L210.49,182.92 L211.16,183.24 L211.82,183.56 L212.47,183.89 L213.11,184.21 L213.75,184.54 L214.38,184.86 L214.99,185.18 L215.60,185.51 L216.20,185.83 L216.80,186.15 L217.38,186.48 L217.96,186.80 L218.53,187.11 L219.09,187.43 L219.65,187.75 L220.19,188.06 L220.73,188.37 L221.26,188.69 L221.79,188.99 L222.31,189.30 L222.82,189.60 L223.32,189.91 L223.82,190.21 L224.31,190.50 L224.80,190.80 L225.28,191.09 L225.75,191.37 L226.22,191.66 L226.68,191.94 L227.13,192.22 L227.58,192.50 L228.03,192.77 L228.47,193.04 L228.90,193.31 L229.33,193.57 L229.75,193.83 L230.17,194.09 L230.59,194.34 L231.00,194.59 L231.40,194.83 L231.80,195.08 L232.20,195.31 L232.59,195.55 L232.98,195.78 L233.37,196.01 L233.75,196.23 L234.12,196.45 L234.50,196.67 L234.87,196.88 L235.23,197.09 L235.59,197.29 L235.95,197.50 L236.31,197.69 L236.67,197.89 L237.02,198.08 L237.36,198.26 L237.71,198.45 L238.05,198.62 L238.39,198.80 L238.73,198.97 L239.06,199.14 L239.40,199.30 L239.73,199.46 L240.06,199.62 L240.38,199.77 L240.71,199.92 L241.03,200.06 L241.35,200.20 L241.67,200.34 L241.99,200.48 L242.30,200.61 L242.62,200.73 L242.93,200.86 L243.24,200.98 L243.55,201.09 L243.86,201.20 L244.17,201.31 L244.47,201.42 L244.78,201.52 L245.08,201.62 L245.38,201.71 L245.69,201.80 L245.99,201.89 L246.29,201.98 L246.59,202.06 L246.89,202.14 L247.18,202.21 L247.48,202.28 L247.78,202.35 L248.08,202.42 L248.37,202.48 L248.67,202.54 L248.96,202.59 L249.26,202.64 L249.55,202.69 L249.85,202.74 L250.14,202.78 L250.44,202.82 L250.73,202.85 L251.03,202.89 L251.32,202.92 L251.62,202.94 L251.91,202.97 L252.20,202.99 L252.50,203.01 L252.79,203.02 L253.09,203.03 L253.38,203.04 L253.68,203.05 L253.97,203.05 L254.27,203.05 L254.57,203.05 L254.86,203.05 L255.16,203.04 L255.46,203.03 L255.76,203.01 L256.06,203.00 L256.36,202.98 L256.66,202.96 L256.96,202.93 L257.26,202.91 L257.56,202.88 L257.86,202.84 L258.17,202.81 L258.47,202.77 L258.78,202.73 L259.08,202.69 L259.39,202.64 L259.70,202.60 L260.01,202.55 L260.32,202.49 L260.63,202.44 L260.94,202.38 L261.25,202.32" fill="none" stroke="#dc3a3a" stroke-width="0.9"/><path d="M97.55,228.39 L97.58,228.27 L97.60,228.14 L97.62,228.01 L97.65,227.88 L97.67,227.75 L97.70,227.61 L97.72,227.48 L97.75,227.34 L97.78,227.19 L97.81,227.05 L97.84,226.90 L97.87,226.75 L97.90,226.60 L97.93,226.45 L97.96,226.29 L98.00,226.13 L98.03,225.97 L98.07,225.80 L98.11,225.63 L98.14,225.46 L98.18,225.29 L98.22,225.11 L98.27,224.93 L98.31,224.75 L98.35,224.56 L98.40,224.37 L98.45,224.18 L98.50,223.99 L98.55,223.79 L98.60,223.58 L98.65,223.38 L98.71,223.17 L98.76,222.96 L98.82,222.74 L98.88,222.52 L98.95,222.30 L99.01,222.08 L99.08,221.85 L99.14,221.61 L99.21,221.38 L99.29,221.13 L99.36,220.89 L99.44,220.64 L99.52,220.39 L99.60,220.13 L99.68,219.87 L99.77,219.61 L99.86,219.34 L99.95,219.06 L100.05,218.79 L100.14,218.50 L100.24,218.22 L100.35,217.93 L100.46,217.63 L100.57,217.34 L100.68,217.03 L100.80,216.72 L100.92,216.41 L101.04,216.09 L101.17,215.77 L101.30,215.45 L101.44,215.12 L101.58,214.78 L101.72,214.44 L101.87,214.09 L102.02,213.74 L102.18,213.39 L102.34,213.03 L102.51,212.67 L102.68,212.30 L102.86,211.92 L103.04,211.54 L103.23,211.16 L103.42,210.77 L103.62,210.38 L103.83,209.98 L104.04,209.57 L104.26,209.17 L104.48,208.75 L104.71,208.33 L104.95,207.91 L105.19,207.48 L105.44,207.05 L105.70,206.61 L105.96,206.17 L106.24,205.72 L106.52,205.27 L106.80,204.81 L107.10,204.35 L107.40,203.89 L107.72,203.42 L108.04,202.94 L108.37,202.47 L108.71,201.98 L109.06,201.50 L109.41,201.01 L109.78,200.51 L110.16,200.01 L110.54,199.51 L110.94,199.01 L111.35,198.50 L111.77,197.99 L112.19,197.47 L112.63,196.96 L113.08,196.44 L113.54,195.91 L114.02,195.39 L114.50,194.86 L115.00,194.33 L115.50,193.80 L116.02,193.27 L116.56,192.74 L117.10,192.21 L117.66,191.67 L118.23,191.14 L118.81,190.60 L119.40,190.07 L120.01,189.53 L120.63,189.00 L121.27,188.47 L121.91,187.93 L122.57,187.40 L123.25,186.88 L123.93,186.35 L124.63,185.83 L125.35,185.31 L126.07,184.79 L126.82,184.28 L127.57,183.77 L128.34,183.27 L129.12,182.77 L129.91,182.27 L130.72,181.78 L131.54,181.30 L132.37,180.82 L133.22,180.35 L134.08,179.89 L134.95,179.43 L135.84,178.99 L136.73,178.55 L137.64,178.12 L138.56,177.69 L139.49,177.28 L140.43,176.88 L141.39,176.48 L142.35,176.10 L143.33,175.73 L144.31,175.37 L145.31,175.02 L146.31,174.68 L147.33,174.35 L148.35,174.03 L149.38,173.73 L150.42,173.44 L151.46,173.16 L152.52,172.90 L153.58,172.65 L154.64,172.41 L155.71,172.19 L156.79,171.97 L157.87,171.78 L158.96,171.60 L160.05,171.43 L161.14,171.27 L162.23,171.13 L163.33,171.01 L164.43,170.89 L165.53,170.80 L166.64,170.71 L167.74,170.64 L168.84,170.59 L169.94,170.55 L171.04,170.52 L172.14,170.51 L173.24,170.51 L174.33,170.52 L175.42,170.55 L176.51,170.59 L177.60,170.65 L178.68,170.72 L179.75,170.80 L180.82,170.89 L181.89,170.99 L182.95,171.11 L184.00,171.24 L185.05,171.38 L186.09,171.53 L187.12,171.69 L188.15,171.87 L189.16,172.05 L190.17,172.24 L191.17,172.45 L192.17,172.66 L193.15,172.88 L194.13,173.11 L195.09,173.35 L196.05,173.59 L197.00,173.85 L197.94,174.11 L198.87,174.38 L199.78,174.65 L200.69,174.93 L201.59,175.22 L202.48,175.51 L203.36,175.81 L204.23,176.11 L205.08,176.42 L205.93,176.73 L206.77,177.05 L207.60,177.37 L208.41,177.69 L209.22,178.02 L210.01,178.35 L210.80,178.68 L211.57,179.01 L212.34,179.35 L213.10,179.68 L213.84,180.02 L214.58,180.36 L215.30,180.70 L216.02,181.04 L216.72,181.38 L217.42,181.72 L218.11,182.07 L218.78,182.41 L219.45,182.75 L220.11,183.09 L220.76,183.43 L221.40,183.76 L222.03,184.10 L222.66,184.43 L223.27,184.77 L223.88,185.10 L224.48,185.43 L225.07,185.76 L225.65,186.08 L226.23,186.40 L226.80,186.72 L227.36,187.04 L227.91,187.36 L228.46,187.67 L229.00,187.98 L229.53,188.28 L230.05,188.59 L230.57,188.89 L231.09,189.18 L231.59,189.48 L232.09,189.77 L232.59,190.05 L233.07,190.34 L233.56,190.61 L234.03,190.89 L234.51,191.16 L234.97,191.43 L235.43,191.69 L235.89,191.95 L236.34,192.21 L236.79,192.46 L237.23,192.71 L237.67,192.95 L238.10,193.19 L238.53,193.43 L238.96,193.66 L239.38,193.89 L239.79,194.11 L240.21,194.33 L240.62,194.55 L241.03,194.76 L241.43,194.97 L241.83,195.17 L242.23,195.37 L242.62,195.56 L243.01,195.75 L243.40,195.94 L243.78,196.12 L244.17,196.30 L244.54,196.48 L244.92,196.65 L245.30,196.81 L245.67,196.97 L246.04,197.13 L246.41,197.29 L246.78,197.44 L247.14,197.58 L247.50,197.72 L247.86,197.86 L248.22,198.00 L248.58,198.13 L248.94,198.25 L249.29,198.38 L249.65,198.49 L250.00,198.61 L250.35,198.72 L250.70,198.83 L251.05,198.93 L251.40,199.03 L251.74,199.13 L252.09,199.22 L252.43,199.31 L252.78,199.39 L253.12,199.47 L253.46,199.55 L253.81,199.62 L254.15,199.69 L254.49,199.76 L254.83,199.83 L255.17,199.89 L255.51,199.94 L255.85,200.00 L256.19,200.05 L256.53,200.09 L256.87,200.13 L257.21,200.17 L257.54,200.21 L257.88,200.24 L258.22,200.27 L258.56,200.30 L258.90,200.32 L259.24,200.34 L259.58,200.36 L259.92,200.38 L260.26,200.39 L260.60,200.40 L260.94,200.40 L261.28,200.40 L261.63,200.40 L261.97,200.40 L262.31,200.39 L262.65,200.38 L263.00,200.37 L263.34,200.35 L263.69,200.33 L264.03,200.31 L264.38,200.29 L264.73,200.26" fill="none" stroke="#dc3a3a" stroke-width="0.9"/><path d="M97.07,228.46 L97.09,228.34 L97.11,228.22 L97.14,228.10 L97.16,227.98 L97.19,227.86 L97.21,227.73 L97.24,227.60 L97.26,227.47 L97.29,227.34 L97.32,227.20 L97.35,227.06 L97.38,226.93 L97.41,226.78 L97.44,226.64 L97.47,226.49 L97.50,226.34 L97.54,226.19 L97.57,226.04 L97.61,225.88 L97.64,225.73 L97.68,225.56 L97.72,225.40 L97.76,225.23 L97.80,225.07 L97.84,224.89 L97.88,224.72 L97.92,224.54 L97.97,224.36 L98.02,224.18 L98.06,223.99 L98.11,223.80 L98.16,223.61 L98.21,223.42 L98.27,223.22 L98.32,223.02 L98.37,222.81 L98.43,222.61 L98.49,222.40 L98.55,222.18 L98.61,221.96 L98.68,221.74 L98.74,221.52 L98.81,221.29 L98.88,221.06 L98.95,220.83 L99.02,220.59 L99.09,220.35 L99.17,220.10 L99.25,219.85 L99.33,219.60 L99.41,219.34 L99.50,219.08 L99.59,218.81 L99.68,218.55 L99.77,218.27 L99.87,218.00 L99.96,217.72 L100.06,217.43 L100.17,217.14 L100.27,216.85 L100.38,216.55 L100.50,216.25 L100.61,215.94 L100.73,215.63 L100.85,215.32 L100.98,215.00 L101.11,214.67 L101.24,214.34 L101.38,214.01 L101.52,213.67 L101.66,213.33 L101.81,212.98 L101.96,212.63 L102.11,212.27 L102.27,211.91 L102.44,211.55 L102.61,211.17 L102.78,210.80 L102.96,210.42 L103.14,210.03 L103.33,209.64 L103.53,209.24 L103.72,208.84 L103.93,208.44 L104.14,208.03 L104.35,207.61 L104.58,207.19 L104.80,206.77 L105.04,206.34 L105.28,205.90 L105.52,205.46 L105.78,205.01 L106.03,204.56 L106.30,204.11 L106.57,203.65 L106.86,203.18 L107.14,202.71 L107.44,202.24 L107.74,201.76 L108.05,201.27 L108.37,200.79 L108.70,200.29 L109.04,199.79 L109.38,199.29 L109.73,198.78 L110.10,198.27 L110.47,197.76 L110.85,197.24 L111.24,196.71 L111.64,196.19 L112.05,195.66 L112.47,195.12 L112.90,194.58 L113.34,194.04 L113.79,193.49 L114.25,192.94 L114.73,192.39 L115.21,191.84 L115.71,191.28 L116.21,190.72 L116.73,190.16 L117.26,189.59 L117.80,189.03 L118.36,188.46 L118.92,187.89 L119.50,187.32 L120.10,186.75 L120.70,186.17 L121.32,185.60 L121.95,185.03 L122.59,184.45 L123.25,183.88 L123.92,183.31 L124.60,182.73 L125.30,182.16 L126.01,181.59 L126.74,181.02 L127.47,180.46 L128.23,179.89 L128.99,179.33 L129.77,178.78 L130.57,178.22 L131.37,177.67 L132.20,177.12 L133.03,176.58 L133.88,176.04 L134.74,175.51 L135.62,174.98 L136.51,174.46 L137.42,173.95 L138.33,173.44 L139.26,172.94 L140.21,172.44 L141.17,171.96 L142.14,171.48 L143.12,171.01 L144.11,170.55 L145.12,170.10 L146.14,169.66 L147.17,169.22 L148.22,168.80 L149.27,168.39 L150.34,167.99 L151.41,167.60 L152.50,167.23 L153.60,166.86 L154.70,166.51 L155.82,166.17 L156.94,165.84 L158.08,165.52 L159.22,165.22 L160.37,164.93 L161.52,164.66 L162.69,164.40 L163.86,164.15 L165.03,163.92 L166.21,163.70 L167.40,163.50 L168.59,163.31 L169.79,163.14 L170.98,162.98 L172.19,162.84 L173.39,162.71 L174.60,162.60 L175.81,162.50 L177.01,162.42 L178.22,162.35 L179.43,162.30 L180.64,162.26 L181.85,162.24 L183.06,162.23 L184.27,162.24 L185.47,162.26 L186.67,162.30 L187.87,162.35 L189.06,162.42 L190.25,162.50 L191.44,162.59 L192.62,162.70 L193.79,162.82 L194.96,162.96 L196.12,163.10 L197.28,163.26 L198.43,163.44 L199.57,163.62 L200.71,163.82 L201.83,164.03 L202.95,164.24 L204.06,164.48 L205.16,164.72 L206.26,164.97 L207.34,165.23 L208.41,165.50 L209.48,165.78 L210.53,166.07 L211.58,166.37 L212.61,166.68 L213.63,166.99 L214.64,167.32 L215.65,167.65 L216.64,167.98 L217.62,168.33 L218.58,168.68 L219.54,169.03 L220.49,169.39 L221.42,169.76 L222.35,170.13 L223.26,170.51 L224.16,170.89 L225.05,171.27 L225.93,171.66 L226.79,172.05 L227.65,172.44 L228.49,172.84 L229.33,173.24 L230.15,173.64 L230.96,174.04 L231.76,174.45 L232.55,174.85 L233.32,175.26 L234.09,175.67 L234.85,176.08 L235.59,176.49 L236.33,176.89 L237.05,177.30 L237.76,177.71 L238.47,178.12 L239.16,178.52 L239.85,178.93 L240.52,179.33 L241.18,179.74 L241.84,180.14 L242.48,180.54 L243.12,180.94 L243.75,181.33 L244.37,181.72 L244.98,182.12 L245.58,182.50 L246.17,182.89 L246.75,183.27 L247.33,183.65 L247.90,184.03 L248.46,184.40 L249.01,184.77 L249.55,185.14 L250.09,185.51 L250.62,185.87 L251.14,186.22 L251.66,186.58 L252.17,186.93 L252.67,187.27 L253.17,187.61 L253.66,187.95 L254.14,188.29 L254.62,188.62 L255.09,188.94 L255.55,189.26 L256.01,189.58 L256.47,189.90 L256.92,190.20 L257.36,190.51 L257.80,190.81 L258.23,191.11 L258.66,191.40 L259.09,191.69 L259.51,191.97 L259.92,192.25 L260.33,192.52 L260.74,192.79 L261.14,193.06 L261.54,193.32 L261.94,193.58 L262.33,193.83 L262.71,194.08 L263.10,194.32 L263.48,194.56 L263.86,194.80 L264.23,195.03 L264.60,195.25 L264.97,195.48 L265.33,195.69 L265.69,195.91 L266.05,196.12 L266.41,196.32 L266.76,196.52 L267.12,196.72 L267.47,196.91 L267.81,197.10 L268.16,197.28 L268.50,197.46 L268.84,197.63 L269.18,197.80 L269.52,197.97 L269.85,198.13 L270.18,198.29 L270.52,198.45 L270.85,198.60 L271.17,198.75 L271.50,198.89 L271.83,199.03 L272.15,199.16 L272.47,199.29 L272.80,199.42 L273.12,199.54 L273.44,199.66 L273.75,199.78 L274.07,199.89 L274.39,200.00 L274.71,200.11 L275.02,200.21 L275.34,200.30 L275.65,200.40 L275.96,200.49 L276.27,200.57 L276.59,200.66 L276.90,200.74 L277.21,200.81 L277.52,200.89 L277.83,200.96 L278.14,201.02 L278.45,201.09 L278.76,201.14 L279.07,201.20 L279.38,201.25 L279.69,201.30 L280.00,201.35 L280.31,201.39 L280.62,201.43 L280.93,201.47 L281.24,201.50 L281.55,201.53 L281.86,201.56 L282.17,201.59 L282.48,201.61 L282.79,201.63 L283.10,201.64 L283.41,201.65 L283.72,201.66 L284.04,201.67 L284.35,201.67 L284.66,201.68 L284.98,201.67 L285.29,201.67 L285.61,201.66 L285.92,201.65 L286.24,201.64 L286.56,201.62 L286.87,201.60 L287.19,201.58 L287.51,201.56 L287.83,201.53" fill="none" stroke="#dc3a3a" stroke-width="0.9"/><path d="M97.24,228.40 L97.27,228.27 L97.29,228.15 L97.32,228.02 L97.34,227.89 L97.37,227.75 L97.40,227.62 L97.42,227.48 L97.45,227.34 L97.48,227.19 L97.51,227.05 L97.54,226.90 L97.58,226.75 L97.61,226.60 L97.64,226.44 L97.68,226.28 L97.71,226.12 L97.75,225.96 L97.79,225.79 L97.83,225.62 L97.87,225.45 L97.91,225.27 L97.95,225.09 L97.99,224.91 L98.04,224.72 L98.08,224.54 L98.13,224.34 L98.18,224.15 L98.23,223.95 L98.28,223.75 L98.33,223.55 L98.39,223.34 L98.44,223.13 L98.50,222.91 L98.56,222.69 L98.62,222.47 L98.68,222.24 L98.75,222.01 L98.81,221.78 L98.88,221.54 L98.95,221.30 L99.02,221.06 L99.09,220.81 L99.17,220.55 L99.25,220.30 L99.33,220.03 L99.41,219.77 L99.50,219.50 L99.58,219.22 L99.67,218.94 L99.77,218.66 L99.86,218.37 L99.96,218.08 L100.06,217.78 L100.16,217.48 L100.27,217.17 L100.38,216.86 L100.49,216.54 L100.61,216.22 L100.73,215.89 L100.85,215.56 L100.98,215.22 L101.11,214.88 L101.24,214.54 L101.38,214.18 L101.52,213.83 L101.67,213.46 L101.82,213.09 L101.98,212.72 L102.14,212.34 L102.30,211.96 L102.47,211.57 L102.64,211.17 L102.82,210.77 L103.01,210.36 L103.20,209.95 L103.39,209.53 L103.59,209.10 L103.80,208.67 L104.01,208.24 L104.23,207.80 L104.45,207.35 L104.69,206.89 L104.92,206.43 L105.17,205.97 L105.42,205.50 L105.68,205.02 L105.94,204.54 L106.22,204.05 L106.50,203.55 L106.79,203.05 L107.09,202.55 L107.39,202.03 L107.71,201.52 L108.03,200.99 L108.36,200.46 L108.70,199.93 L109.05,199.39 L109.41,198.84 L109.78,198.29 L110.16,197.73 L110.55,197.17 L110.95,196.60 L111.36,196.03 L111.79,195.45 L112.22,194.87 L112.66,194.28 L113.12,193.69 L113.59,193.10 L114.07,192.50 L114.56,191.89 L115.07,191.28 L115.58,190.67 L116.11,190.05 L116.66,189.44 L117.22,188.81 L117.79,188.19 L118.37,187.56 L118.97,186.93 L119.58,186.30 L120.21,185.66 L120.85,185.03 L121.51,184.39 L122.18,183.75 L122.87,183.11 L123.57,182.47 L124.29,181.83 L125.02,181.19 L125.77,180.55 L126.54,179.91 L127.32,179.27 L128.12,178.64 L128.93,178.00 L129.76,177.37 L130.61,176.75 L131.47,176.12 L132.35,175.50 L133.25,174.88 L134.16,174.27 L135.09,173.66 L136.04,173.06 L137.00,172.47 L137.98,171.88 L138.97,171.29 L139.98,170.72 L141.01,170.15 L142.05,169.59 L143.11,169.04 L144.18,168.50 L145.27,167.97 L146.37,167.45 L147.49,166.93 L148.62,166.43 L149.77,165.95 L150.93,165.47 L152.11,165.01 L153.29,164.55 L154.49,164.12 L155.71,163.69 L156.93,163.28 L158.17,162.88 L159.42,162.50 L160.68,162.14 L161.94,161.79 L163.22,161.45 L164.51,161.13 L165.81,160.83 L167.11,160.54 L168.42,160.27 L169.74,160.02 L171.07,159.79 L172.40,159.57 L173.73,159.37 L175.07,159.19 L176.42,159.02 L177.77,158.88 L179.12,158.75 L180.47,158.64 L181.82,158.54 L183.18,158.47 L184.53,158.41 L185.89,158.37 L187.24,158.35 L188.59,158.35 L189.94,158.36 L191.29,158.40 L192.63,158.45 L193.97,158.51 L195.31,158.60 L196.64,158.70 L197.96,158.81 L199.28,158.94 L200.59,159.09 L201.90,159.26 L203.19,159.44 L204.48,159.63 L205.76,159.84 L207.03,160.06 L208.29,160.30 L209.55,160.55 L210.79,160.81 L212.02,161.09 L213.24,161.38 L214.45,161.68 L215.64,161.99 L216.83,162.31 L218.00,162.64 L219.17,162.99 L220.31,163.34 L221.45,163.70 L222.57,164.07 L223.69,164.45 L224.78,164.84 L225.87,165.23 L226.94,165.64 L228.00,166.04 L229.04,166.46 L230.07,166.88 L231.09,167.31 L232.09,167.74 L233.08,168.17 L234.06,168.61 L235.02,169.05 L235.97,169.50 L236.91,169.95 L237.83,170.40 L238.74,170.86 L239.64,171.32 L240.52,171.77 L241.39,172.23 L242.25,172.69 L243.09,173.15 L243.92,173.62 L244.74,174.08 L245.55,174.54 L246.34,175.00 L247.12,175.46 L247.89,175.92 L248.65,176.38 L249.40,176.83 L250.13,177.29 L250.86,177.74 L251.57,178.19 L252.27,178.64 L252.96,179.08 L253.64,179.52 L254.31,179.96 L254.97,180.40 L255.62,180.83 L256.26,181.26 L256.89,181.69 L257.52,182.11 L258.13,182.53 L258.73,182.94 L259.33,183.35 L259.91,183.76 L260.49,184.16 L261.06,184.55 L261.62,184.95 L262.17,185.34 L262.72,185.72 L263.26,186.10 L263.79,186.47 L264.31,186.84 L264.83,187.20 L265.34,187.56 L265.84,187.92 L266.34,188.27 L266.83,188.61 L267.31,188.95 L267.79,189.28 L268.27,189.61 L268.73,189.94 L269.20,190.25 L269.65,190.57 L270.10,190.87 L270.55,191.18 L270.99,191.47 L271.43,191.77 L271.86,192.05 L272.29,192.34 L272.72,192.61 L273.14,192.88 L273.55,193.15 L273.96,193.41 L274.37,193.66 L274.78,193.92 L275.18,194.16 L275.58,194.40 L275.97,194.64 L276.36,194.86 L276.75,195.09 L277.14,195.31 L277.52,195.52 L277.90,195.73 L278.28,195.94 L278.65,196.14 L279.03,196.33 L279.40,196.52 L279.77,196.71 L280.13,196.89 L280.50,197.06 L280.86,197.23 L281.22,197.40 L281.58,197.56 L281.94,197.72 L282.29,197.87 L282.65,198.02 L283.00,198.16 L283.35,198.30 L283.70,198.43 L284.05,198.56 L284.40,198.69 L284.74,198.81 L285.09,198.92 L285.44,199.04 L285.78,199.14 L286.12,199.25 L286.47,199.35 L286.81,199.44 L287.15,199.53 L287.49,199.62 L287.83,199.70 L288.17,199.78 L288.51,199.85 L288.85,199.92 L289.19,199.99 L289.53,200.05 L289.87,200.11 L290.21,200.17 L290.55,200.22 L290.89,200.27 L291.22,200.31 L291.56,200.35 L291.90,200.39 L292.24,200.42 L292.58,200.45 L292.92,200.48 L293.26,200.50 L293.60,200.52 L293.95,200.53 L294.29,200.54 L294.63,200.55 L294.97,200.56 L295.32,200.56 L295.66,200.56 L296.00,200.55 L296.35,200.54 L296.70,200.53 L297.04,200.51 L297.39,200.50 L297.74,200.47 L298.09,200.45 L298.44,200.42 L298.79,200.39" fill="none" stroke="#dc3a3a" stroke-width="0.9"/><path d="M96.96,228.30 L96.98,228.18 L97.00,228.06 L97.03,227.94 L97.05,227.81 L97.08,227.68 L97.10,227.55 L97.13,227.42 L97.16,227.29 L97.19,227.15 L97.22,227.01 L97.25,226.87 L97.28,226.73 L97.31,226.58 L97.34,226.43 L97.37,226.28 L97.41,226.13 L97.44,225.98 L97.48,225.82 L97.51,225.66 L97.55,225.50 L97.59,225.33 L97.63,225.16 L97.67,224.99 L97.71,224.82 L97.75,224.64 L97.80,224.46 L97.84,224.28 L97.89,224.09 L97.94,223.90 L97.98,223.71 L98.03,223.52 L98.08,223.32 L98.14,223.12 L98.19,222.92 L98.25,222.71 L98.30,222.50 L98.36,222.29 L98.42,222.07 L98.48,221.85 L98.54,221.63 L98.61,221.40 L98.67,221.17 L98.74,220.93 L98.81,220.69 L98.88,220.45 L98.96,220.21 L99.03,219.96 L99.11,219.70 L99.19,219.45 L99.27,219.19 L99.36,218.92 L99.44,218.65 L99.53,218.38 L99.62,218.10 L99.72,217.82 L99.81,217.53 L99.91,217.24 L100.01,216.95 L100.12,216.65 L100.23,216.35 L100.34,216.04 L100.45,215.73 L100.57,215.41 L100.69,215.09 L100.81,214.76 L100.93,214.43 L101.06,214.09 L101.20,213.75 L101.33,213.41 L101.47,213.06 L101.62,212.70 L101.77,212.34 L101.92,211.98 L102.08,211.61 L102.24,211.23 L102.40,210.85 L102.57,210.46 L102.74,210.07 L102.92,209.68 L103.11,209.27 L103.30,208.87 L103.49,208.46 L103.69,208.04 L103.89,207.61 L104.10,207.19 L104.32,206.75 L104.54,206.31 L104.77,205.87 L105.00,205.42 L105.24,204.96 L105.49,204.50 L105.74,204.04 L106.00,203.56 L106.27,203.09 L106.54,202.60 L106.82,202.12 L107.11,201.62 L107.41,201.12 L107.71,200.62 L108.02,200.11 L108.34,199.59 L108.67,199.07 L109.00,198.55 L109.35,198.02 L109.70,197.48 L110.07,196.94 L110.44,196.39 L110.82,195.84 L111.21,195.29 L111.61,194.73 L112.02,194.16 L112.45,193.59 L112.88,193.02 L113.32,192.44 L113.77,191.86 L114.24,191.27 L114.71,190.68 L115.20,190.08 L115.70,189.49 L116.21,188.88 L116.73,188.28 L117.27,187.67 L117.81,187.06 L118.37,186.44 L118.95,185.83 L119.53,185.21 L120.13,184.59 L120.74,183.96 L121.37,183.34 L122.01,182.71 L122.66,182.08 L123.33,181.46 L124.01,180.83 L124.70,180.20 L125.41,179.57 L126.14,178.94 L126.88,178.31 L127.63,177.68 L128.40,177.05 L129.18,176.43 L129.98,175.80 L130.79,175.18 L131.62,174.56 L132.47,173.95 L133.33,173.33 L134.20,172.72 L135.09,172.12 L136.00,171.52 L136.92,170.92 L137.85,170.33 L138.80,169.74 L139.77,169.16 L140.75,168.59 L141.75,168.02 L142.76,167.46 L143.78,166.91 L144.82,166.37 L145.87,165.83 L146.94,165.30 L148.03,164.79 L149.12,164.28 L150.23,163.78 L151.35,163.29 L152.49,162.82 L153.64,162.35 L154.80,161.90 L155.98,161.45 L157.16,161.02 L158.36,160.61 L159.57,160.20 L160.78,159.81 L162.01,159.43 L163.25,159.07 L164.50,158.72 L165.76,158.38 L167.03,158.06 L168.30,157.76 L169.58,157.47 L170.87,157.19 L172.17,156.93 L173.47,156.69 L174.78,156.46 L176.09,156.25 L177.41,156.06 L178.73,155.88 L180.06,155.71 L181.39,155.57 L182.72,155.44 L184.05,155.33 L185.39,155.23 L186.72,155.15 L188.06,155.09 L189.40,155.04 L190.73,155.01 L192.07,155.00 L193.40,155.00 L194.73,155.02 L196.05,155.06 L197.38,155.11 L198.70,155.18 L200.01,155.26 L201.33,155.36 L202.63,155.47 L203.93,155.60 L205.23,155.74 L206.51,155.90 L207.79,156.07 L209.07,156.25 L210.33,156.45 L211.59,156.66 L212.84,156.89 L214.08,157.12 L215.31,157.37 L216.53,157.63 L217.74,157.91 L218.94,158.19 L220.14,158.49 L221.32,158.79 L222.49,159.11 L223.64,159.43 L224.79,159.76 L225.93,160.11 L227.05,160.46 L228.16,160.82 L229.27,161.19 L230.35,161.56 L231.43,161.94 L232.50,162.33 L233.55,162.73 L234.59,163.13 L235.62,163.54 L236.63,163.95 L237.63,164.37 L238.62,164.79 L239.60,165.21 L240.57,165.64 L241.52,166.07 L242.46,166.51 L243.39,166.95 L244.30,167.39 L245.20,167.83 L246.10,168.28 L246.97,168.72 L247.84,169.17 L248.70,169.62 L249.54,170.07 L250.37,170.52 L251.19,170.97 L252.00,171.42 L252.80,171.87 L253.58,172.32 L254.35,172.77 L255.12,173.22 L255.87,173.67 L256.61,174.11 L257.34,174.56 L258.06,175.00 L258.78,175.44 L259.48,175.88 L260.17,176.31 L260.85,176.74 L261.52,177.17 L262.18,177.60 L262.83,178.03 L263.48,178.45 L264.11,178.87 L264.74,179.28 L265.35,179.69 L265.96,180.10 L266.56,180.51 L267.16,180.91 L267.74,181.30 L268.32,181.70 L268.89,182.08 L269.45,182.47 L270.00,182.85 L270.55,183.23 L271.09,183.60 L271.62,183.97 L272.15,184.33 L272.67,184.69 L273.18,185.04 L273.69,185.39 L274.19,185.74 L274.69,186.08 L275.18,186.41 L275.67,186.74 L276.14,187.07 L276.62,187.39 L277.09,187.71 L277.55,188.02 L278.01,188.33 L278.46,188.63 L278.91,188.93 L279.36,189.22 L279.80,189.51 L280.23,189.80 L280.67,190.07 L281.10,190.35 L281.52,190.62 L281.94,190.88 L282.36,191.14 L282.77,191.40 L283.18,191.65 L283.59,191.89 L283.99,192.13 L284.39,192.37 L284.79,192.60 L285.18,192.83 L285.57,193.05 L285.96,193.27 L286.35,193.48 L286.73,193.69 L287.11,193.89 L287.49,194.09 L287.87,194.29 L288.24,194.48 L288.62,194.66 L288.99,194.84 L289.36,195.02 L289.72,195.19 L290.09,195.36 L290.45,195.52 L290.81,195.68 L291.17,195.84 L291.53,195.99 L291.89,196.14 L292.24,196.28 L292.60,196.42 L292.95,196.55 L293.30,196.68 L293.65,196.81 L294.00,196.93 L294.35,197.05 L294.70,197.16 L295.05,197.27 L295.40,197.38 L295.74,197.48 L296.09,197.58 L296.43,197.68 L296.78,197.77 L297.12,197.86 L297.46,197.94 L297.81,198.02 L298.15,198.10 L298.49,198.17 L298.83,198.24 L299.17,198.30 L299.52,198.37 L299.86,198.42 L300.20,198.48 L300.54,198.53 L300.88,198.58 L301.22,198.62 L301.56,198.67 L301.91,198.70 L302.25,198.74 L302.59,198.77 L302.93,198.80 L303.27,198.82 L303.62,198.85 L303.96,198.87 L304.30,198.88 L304.65,198.89 L304.99,198.90 L305.34,198.91 L305.68,198.91 L306.03,198.91 L306.37,198.91 L306.72,198.90 L307.07,198.90 L307.42,198.88 L307.77,198.87 L308.12,198.85 L308.47,198.83 L308.82,198.81 L309.17,198.78 L309.52,198.75 L309.88,198.72 L310.23,198.69 L310.59,198.65 L310.95,198.61 L311.30,198.57 L311.66,198.52 L312.02,198.48 L312.38,198.42 L312.75,198.37 L313.11,198.32 L313.47,198.26 L313.84,198.20 L314.21,198.13 L314.57,198.07 L314.94,198.00 L315.31,197.93 L315.69,197.85 L316.06,197.78 L316.43,197.70 L316.81,197.62 L317.19,197.53" fill="none" stroke="#dc3a3a" stroke-width="0.9"/><path d="M96.95,228.30 L96.98,228.18 L97.00,228.05 L97.03,227.92 L97.06,227.79 L97.08,227.66 L97.11,227.52 L97.14,227.38 L97.17,227.24 L97.20,227.10 L97.23,226.96 L97.26,226.81 L97.29,226.66 L97.32,226.51 L97.36,226.35 L97.39,226.20 L97.43,226.04 L97.46,225.87 L97.50,225.71 L97.54,225.54 L97.58,225.37 L97.62,225.19 L97.66,225.02 L97.70,224.84 L97.75,224.65 L97.79,224.47 L97.84,224.28 L97.89,224.09 L97.94,223.89 L97.99,223.69 L98.04,223.49 L98.09,223.28 L98.15,223.07 L98.20,222.86 L98.26,222.65 L98.32,222.43 L98.38,222.20 L98.44,221.98 L98.51,221.75 L98.57,221.51 L98.64,221.27 L98.71,221.03 L98.78,220.79 L98.85,220.54 L98.93,220.28 L99.01,220.02 L99.09,219.76 L99.17,219.50 L99.25,219.22 L99.34,218.95 L99.43,218.67 L99.52,218.39 L99.62,218.10 L99.71,217.81 L99.81,217.51 L99.92,217.21 L100.02,216.90 L100.13,216.59 L100.24,216.27 L100.36,215.95 L100.48,215.63 L100.60,215.29 L100.72,214.96 L100.85,214.62 L100.98,214.27 L101.12,213.92 L101.26,213.56 L101.40,213.20 L101.55,212.83 L101.70,212.46 L101.86,212.08 L102.02,211.70 L102.18,211.31 L102.35,210.92 L102.53,210.52 L102.71,210.11 L102.89,209.70 L103.08,209.28 L103.28,208.86 L103.48,208.43 L103.69,208.00 L103.90,207.56 L104.12,207.11 L104.34,206.66 L104.57,206.20 L104.81,205.74 L105.05,205.27 L105.31,204.79 L105.56,204.31 L105.83,203.83 L106.10,203.33 L106.38,202.83 L106.67,202.33 L106.96,201.82 L107.27,201.30 L107.58,200.78 L107.90,200.25 L108.23,199.72 L108.56,199.18 L108.91,198.63 L109.27,198.08 L109.63,197.52 L110.01,196.96 L110.39,196.39 L110.79,195.82 L111.19,195.24 L111.61,194.66 L112.04,194.07 L112.47,193.48 L112.92,192.88 L113.39,192.28 L113.86,191.67 L114.34,191.06 L114.84,190.44 L115.35,189.82 L115.87,189.20 L116.41,188.57 L116.95,187.94 L117.51,187.30 L118.09,186.66 L118.68,186.02 L119.28,185.38 L119.90,184.73 L120.53,184.08 L121.17,183.43 L121.83,182.78 L122.51,182.13 L123.20,181.47 L123.90,180.81 L124.62,180.16 L125.36,179.50 L126.11,178.85 L126.88,178.19 L127.66,177.53 L128.46,176.88 L129.28,176.23 L130.11,175.58 L130.96,174.93 L131.82,174.28 L132.70,173.64 L133.60,173.00 L134.52,172.37 L135.45,171.74 L136.39,171.11 L137.36,170.49 L138.34,169.88 L139.33,169.27 L140.35,168.67 L141.38,168.07 L142.42,167.49 L143.48,166.91 L144.56,166.34 L145.65,165.77 L146.76,165.22 L147.89,164.68 L149.02,164.15 L150.18,163.62 L151.35,163.11 L152.53,162.61 L153.72,162.13 L154.93,161.65 L156.16,161.19 L157.39,160.74 L158.64,160.31 L159.90,159.89 L161.17,159.48 L162.45,159.09 L163.75,158.71 L165.05,158.35 L166.36,158.01 L167.69,157.68 L169.02,157.36 L170.36,157.07 L171.70,156.79 L173.06,156.52 L174.42,156.28 L175.79,156.05 L177.16,155.84 L178.53,155.65 L179.92,155.47 L181.30,155.31 L182.69,155.17 L184.08,155.05 L185.47,154.95 L186.86,154.86 L188.25,154.80 L189.65,154.75 L191.04,154.72 L192.43,154.70 L193.82,154.71 L195.20,154.73 L196.59,154.77 L197.97,154.82 L199.34,154.89 L200.71,154.98 L202.08,155.09 L203.44,155.21 L204.79,155.35 L206.14,155.51 L207.48,155.68 L208.81,155.86 L210.13,156.06 L211.45,156.27 L212.75,156.50 L214.05,156.74 L215.33,157.00 L216.61,157.27 L217.88,157.55 L219.13,157.84 L220.38,158.15 L221.61,158.46 L222.83,158.79 L224.04,159.13 L225.23,159.48 L226.42,159.84 L227.59,160.20 L228.75,160.58 L229.89,160.96 L231.03,161.36 L232.15,161.76 L233.25,162.16 L234.35,162.58 L235.43,163.00 L236.49,163.42 L237.55,163.86 L238.59,164.29 L239.61,164.73 L240.63,165.18 L241.63,165.63 L242.61,166.08 L243.58,166.54 L244.54,167.00 L245.49,167.46 L246.42,167.92 L247.34,168.39 L248.24,168.86 L249.14,169.33 L250.02,169.80 L250.88,170.27 L251.74,170.74 L252.58,171.21 L253.41,171.67 L254.23,172.14 L255.03,172.61 L255.83,173.08 L256.61,173.55 L257.38,174.01 L258.14,174.47 L258.89,174.93 L259.63,175.39 L260.35,175.85 L261.07,176.30 L261.77,176.75 L262.47,177.20 L263.15,177.64 L263.83,178.08 L264.49,178.52 L265.15,178.96 L265.79,179.39 L266.43,179.81 L267.06,180.24 L267.67,180.66 L268.28,181.07 L268.89,181.48 L269.48,181.89 L270.06,182.29 L270.64,182.69 L271.21,183.08 L271.77,183.47 L272.33,183.85 L272.88,184.23 L273.42,184.60 L273.95,184.97 L274.48,185.33 L275.00,185.69 L275.51,186.05 L276.02,186.40 L276.52,186.74 L277.02,187.08 L277.51,187.41 L278.00,187.74 L278.48,188.06 L278.95,188.38 L279.42,188.69 L279.89,189.00 L280.35,189.30 L280.80,189.60 L281.25,189.89 L281.70,190.18 L282.14,190.46 L282.58,190.74 L283.01,191.01 L283.44,191.28 L283.87,191.54 L284.29,191.79 L284.71,192.04 L285.13,192.29 L285.54,192.53 L285.95,192.77 L286.36,193.00 L286.76,193.22 L287.16,193.44 L287.56,193.66 L287.96,193.87 L288.35,194.08 L288.74,194.28 L289.13,194.47 L289.52,194.66 L289.90,194.85 L290.28,195.03 L290.66,195.21 L291.04,195.38 L291.42,195.55 L291.79,195.71 L292.17,195.87 L292.54,196.03 L292.91,196.17 L293.28,196.32 L293.65,196.46 L294.01,196.60 L294.38,196.73 L294.74,196.86 L295.10,196.98 L295.47,197.10 L295.83,197.21 L296.19,197.32 L296.55,197.43 L296.91,197.53 L297.27,197.63 L297.62,197.72 L297.98,197.81 L298.34,197.90 L298.69,197.98 L299.05,198.06 L299.41,198.13 L299.76,198.20 L300.12,198.27 L300.47,198.33 L300.83,198.39 L301.18,198.45 L301.54,198.50 L301.89,198.55 L302.25,198.59 L302.60,198.63 L302.96,198.67 L303.31,198.70 L303.67,198.73 L304.02,198.76 L304.38,198.78 L304.74,198.80 L305.09,198.81 L305.45,198.83 L305.81,198.84 L306.17,198.84 L306.53,198.85 L306.89,198.84 L307.25,198.84 L307.61,198.83 L307.97,198.82 L308.34,198.81 L308.70,198.79 L309.06,198.77 L309.43,198.75 L309.80,198.73 L310.16,198.70 L310.53,198.66 L310.90,198.63 L311.27,198.59 L311.64,198.55 L312.01,198.51 L312.39,198.46 L312.76,198.41 L313.14,198.36 L313.51,198.30 L313.89,198.25 L314.27,198.18 L314.65,198.12 L315.03,198.05 L315.41,197.99 L315.80,197.91 L316.18,197.84 L316.57,197.76 L316.96,197.68 L317.35,197.60 L317.74,197.51 L318.14,197.43 L318.53,197.33 L318.93,197.24 L319.32,197.15 L319.72,197.05 L320.12,196.95 L320.53,196.84 L320.93,196.74 L321.34,196.63 L321.74,196.52 L322.15,196.40 L322.57,196.29 L322.98,196.17 L323.39,196.05 L323.81,195.92" fill="none" stroke="#dc3a3a" stroke-width="0.9"/><path d="M96.94,228.18 L96.96,228.05 L96.98,227.91 L97.00,227.77 L97.02,227.63 L97.05,227.49 L97.07,227.35 L97.10,227.20 L97.12,227.05 L97.15,226.90 L97.17,226.74 L97.20,226.58 L97.23,226.42 L97.26,226.26 L97.29,226.09 L97.32,225.92 L97.35,225.75 L97.39,225.57 L97.42,225.39 L97.46,225.21 L97.49,225.02 L97.53,224.83 L97.57,224.64 L97.61,224.44 L97.65,224.24 L97.69,224.04 L97.74,223.83 L97.78,223.62 L97.83,223.41 L97.88,223.19 L97.92,222.97 L97.98,222.74 L98.03,222.52 L98.08,222.28 L98.14,222.04 L98.20,221.80 L98.25,221.56 L98.32,221.31 L98.38,221.05 L98.44,220.79 L98.51,220.53 L98.58,220.26 L98.65,219.99 L98.72,219.72 L98.80,219.43 L98.88,219.15 L98.96,218.86 L99.04,218.56 L99.13,218.26 L99.21,217.95 L99.31,217.64 L99.40,217.33 L99.50,217.00 L99.60,216.68 L99.70,216.35 L99.81,216.01 L99.92,215.66 L100.03,215.32 L100.15,214.96 L100.27,214.60 L100.39,214.24 L100.52,213.86 L100.65,213.49 L100.79,213.10 L100.93,212.71 L101.07,212.32 L101.22,211.92 L101.38,211.51 L101.53,211.09 L101.70,210.67 L101.87,210.25 L102.04,209.81 L102.22,209.37 L102.41,208.93 L102.60,208.47 L102.80,208.01 L103.00,207.55 L103.21,207.08 L103.42,206.60 L103.65,206.11 L103.88,205.62 L104.11,205.12 L104.36,204.61 L104.61,204.10 L104.87,203.58 L105.14,203.05 L105.41,202.51 L105.69,201.97 L105.99,201.43 L106.29,200.87 L106.60,200.31 L106.91,199.74 L107.24,199.17 L107.58,198.59 L107.93,198.00 L108.29,197.40 L108.66,196.80 L109.04,196.19 L109.43,195.58 L109.83,194.96 L110.24,194.33 L110.67,193.70 L111.10,193.06 L111.55,192.42 L112.01,191.77 L112.49,191.11 L112.98,190.45 L113.48,189.78 L113.99,189.11 L114.52,188.43 L115.07,187.75 L115.63,187.07 L116.20,186.37 L116.79,185.68 L117.39,184.98 L118.01,184.28 L118.64,183.58 L119.29,182.87 L119.96,182.16 L120.65,181.45 L121.35,180.73 L122.06,180.01 L122.80,179.30 L123.55,178.58 L124.32,177.86 L125.11,177.14 L125.91,176.42 L126.74,175.70 L127.58,174.98 L128.44,174.27 L129.32,173.55 L130.22,172.84 L131.13,172.13 L132.07,171.43 L133.02,170.73 L134.00,170.03 L134.99,169.34 L136.00,168.65 L137.03,167.97 L138.08,167.30 L139.15,166.63 L140.23,165.97 L141.34,165.32 L142.46,164.68 L143.60,164.05 L144.76,163.42 L145.94,162.81 L147.14,162.21 L148.35,161.62 L149.58,161.04 L150.82,160.48 L152.08,159.92 L153.36,159.38 L154.66,158.86 L155.97,158.35 L157.29,157.86 L158.63,157.38 L159.98,156.91 L161.34,156.47 L162.72,156.04 L164.11,155.62 L165.51,155.23 L166.92,154.85 L168.34,154.49 L169.78,154.16 L171.22,153.83 L172.67,153.53 L174.12,153.25 L175.59,152.99 L177.06,152.75 L178.53,152.53 L180.02,152.32 L181.50,152.14 L182.99,151.98 L184.48,151.84 L185.97,151.72 L187.47,151.62 L188.96,151.55 L190.46,151.49 L191.95,151.45 L193.44,151.43 L194.93,151.43 L196.42,151.45 L197.90,151.50 L199.38,151.56 L200.85,151.64 L202.32,151.74 L203.78,151.85 L205.24,151.99 L206.68,152.14 L208.12,152.32 L209.55,152.51 L210.97,152.71 L212.38,152.93 L213.79,153.17 L215.18,153.43 L216.56,153.69 L217.92,153.98 L219.28,154.28 L220.62,154.59 L221.95,154.91 L223.27,155.25 L224.58,155.60 L225.87,155.96 L227.15,156.33 L228.41,156.71 L229.66,157.11 L230.90,157.51 L232.12,157.92 L233.32,158.34 L234.51,158.77 L235.69,159.21 L236.85,159.65 L238.00,160.11 L239.13,160.56 L240.25,161.02 L241.35,161.49 L242.43,161.97 L243.50,162.44 L244.56,162.92 L245.60,163.41 L246.63,163.90 L247.64,164.39 L248.63,164.88 L249.62,165.37 L250.58,165.87 L251.54,166.37 L252.48,166.87 L253.40,167.36 L254.31,167.86 L255.21,168.36 L256.09,168.86 L256.96,169.36 L257.82,169.85 L258.66,170.35 L259.49,170.84 L260.31,171.33 L261.12,171.82 L261.91,172.30 L262.69,172.79 L263.46,173.27 L264.22,173.75 L264.97,174.22 L265.70,174.69 L266.43,175.16 L267.14,175.62 L267.85,176.08 L268.54,176.53 L269.22,176.99 L269.90,177.43 L270.56,177.87 L271.21,178.31 L271.86,178.74 L272.50,179.17 L273.12,179.59 L273.74,180.01 L274.35,180.42 L274.96,180.83 L275.55,181.23 L276.14,181.63 L276.72,182.02 L277.29,182.41 L277.86,182.79 L278.42,183.16 L278.97,183.53 L279.51,183.90 L280.05,184.25 L280.58,184.61 L281.11,184.95 L281.63,185.30 L282.15,185.63 L282.66,185.96 L283.16,186.29 L283.66,186.60 L284.16,186.92 L284.65,187.22 L285.13,187.53 L285.61,187.82 L286.09,188.11 L286.56,188.40 L287.03,188.68 L287.49,188.95 L287.95,189.22 L288.41,189.48 L288.86,189.74 L289.31,189.99 L289.76,190.23 L290.20,190.47 L290.64,190.71 L291.08,190.94 L291.51,191.16 L291.94,191.38 L292.37,191.59 L292.80,191.80 L293.22,192.00 L293.64,192.20 L294.06,192.39 L294.48,192.58 L294.90,192.76 L295.31,192.94 L295.72,193.11 L296.14,193.28 L296.54,193.44 L296.95,193.60 L297.36,193.76 L297.76,193.90 L298.17,194.05 L298.57,194.19 L298.97,194.32 L299.37,194.45 L299.77,194.57 L300.17,194.69 L300.56,194.81 L300.96,194.92 L301.36,195.03 L301.75,195.13 L302.15,195.23 L302.54,195.32 L302.93,195.41 L303.33,195.50 L303.72,195.58 L304.11,195.66 L304.51,195.73 L304.90,195.80 L305.29,195.86 L305.68,195.93 L306.08,195.98 L306.47,196.04 L306.86,196.09 L307.25,196.13 L307.65,196.17 L308.04,196.21 L308.43,196.24 L308.83,196.27 L309.22,196.30 L309.62,196.33 L310.01,196.34 L310.41,196.36 L310.80,196.37 L311.20,196.38 L311.60,196.39 L312.00,196.39 L312.40,196.39 L312.80,196.38 L313.20,196.38 L313.60,196.37 L314.00,196.35 L314.40,196.33 L314.81,196.31 L315.21,196.29 L315.62,196.26 L316.03,196.23 L316.43,196.20 L316.84,196.16 L317.25,196.12 L317.66,196.08 L318.08,196.03 L318.49,195.98 L318.91,195.93 L319.32,195.88 L319.74,195.82 L320.16,195.76 L320.58,195.69 L321.00,195.63 L321.42,195.56 L321.85,195.49 L322.28,195.41 L322.70,195.34 L323.13,195.26 L323.56,195.17 L324.00,195.09 L324.43,195.00 L324.87,194.91 L325.30,194.81 L325.74,194.72 L326.18,194.62 L326.63,194.52 L327.07,194.41 L327.52,194.31 L327.96,194.20 L328.41,194.09 L328.86,193.97 L329.32,193.86 L329.77,193.74 L330.23,193.62 L330.69,193.49 L331.15,193.36 L331.61,193.24 L332.08,193.10 L332.55,192.97 L333.01,192.83 L333.49,192.70 L333.96,192.55 L334.44,192.41 L334.91,192.27 L335.39,192.12 L335.87,191.97 L336.36,191.81 L336.85,191.66 L337.33,191.50" fill="none" stroke="#dc3a3a" stroke-width="0.9"/><line x1="300.6" y1="193.9" x2="304.3" y2="190.9" stroke="#c83038" stroke-width="0.8"/><line x1="307.6" y1="194.3" x2="314.5" y2="189.3" stroke="#c83038" stroke-width="0.8"/><line x1="315.9" y1="193.6" x2="325.8" y2="188.0" stroke="#c83038" stroke-width="0.8"/><line x1="323.2" y1="192.3" x2="331.8" y2="186.0" stroke="#c83038" stroke-width="0.8"/></g><rect x="70.8" y="8.4" width="296.60" height="238.60" fill="none" stroke="#222" stroke-width="1.3"/><line x1="65.80" y1="235.40" x2="70.80" y2="235.40" stroke="#222" stroke-width="1.2"/><text x="62.50" y="241.60" font-family='"Liberation Serif", serif' font-size="18" font-weight="normal" font-style="normal" text-anchor="end" >0</text><line x1="65.80" y1="144.54" x2="70.80" y2="144.54" stroke="#222" stroke-width="1.2"/><text x="62.50" y="150.74" font-family='"Liberation Serif", serif' font-size="18" font-weight="normal" font-style="normal" text-anchor="end" >2000</text><line x1="65.80" y1="53.68" x2="70.80" y2="53.68" stroke="#222" stroke-width="1.2"/><text x="62.50" y="59.88" font-family='"Liberation Serif", serif' font-size="18" font-weight="normal" font-style="normal" text-anchor="end" >4000</text><line x1="67.80" y1="189.97" x2="70.80" y2="189.97" stroke="#222" stroke-width="1.2"/><line x1="67.80" y1="99.11" x2="70.80" y2="99.11" stroke="#222" stroke-width="1.2"/><line x1="67.80" y1="8.25" x2="70.80" y2="8.25" stroke="#222" stroke-width="1.2"/><line x1="82.50" y1="247.00" x2="82.50" y2="252.00" stroke="#222" stroke-width="1.2"/><text x="82.50" y="269.00" font-family='"Liberation Serif", serif' font-size="18" font-weight="normal" font-style="normal" text-anchor="middle" >0</text><line x1="177.50" y1="247.00" x2="177.50" y2="252.00" stroke="#222" stroke-width="1.2"/><text x="177.50" y="269.00" font-family='"Liberation Serif", serif' font-size="18" font-weight="normal" font-style="normal" text-anchor="middle" >2000</text><line x1="272.50" y1="247.00" x2="272.50" y2="252.00" stroke="#222" stroke-width="1.2"/><text x="272.50" y="269.00" font-family='"Liberation Serif", serif' font-size="18" font-weight="normal" font-style="normal" text-anchor="middle" >4000</text><line x1="367.50" y1="247.00" x2="367.50" y2="252.00" stroke="#222" stroke-width="1.2"/><text x="367.50" y="269.00" font-family='"Liberation Serif", serif' font-size="18" font-weight="normal" font-style="normal" text-anchor="middle" >6000</text><line x1="130.00" y1="247.00" x2="130.00" y2="250.00" stroke="#222" stroke-width="1.2"/><line x1="225.00" y1="247.00" x2="225.00" y2="250.00" stroke="#222" stroke-width="1.2"/><line x1="320.00" y1="247.00" x2="320.00" y2="250.00" stroke="#222" stroke-width="1.2"/><text x="190.4" y="295.3" font-family='"Liberation Serif", serif' font-size="22" font-weight="bold"><tspan textLength="16.0" lengthAdjust="spacingAndGlyphs">Z</tspan><tspan x="205.0">'</tspan><tspan x="217.6" textLength="29.8" lengthAdjust="spacingAndGlyphs">(Ω)</tspan></text><text transform="translate(20,0) rotate(-90)" font-family='"Liberation Serif", serif' font-size="22.5" font-weight="bold"><tspan x="-163.6">-</tspan><tspan x="-156.4" textLength="16.4" lengthAdjust="spacingAndGlyphs">Z</tspan><tspan x="-141.3">''</tspan><tspan x="-122.6" textLength="30.0" lengthAdjust="spacingAndGlyphs">(Ω)</tspan></text><text x="340.50" y="35.00" font-family='"Liberation Serif", serif' font-size="24" font-weight="bold" font-style="normal" text-anchor="middle" >(a)</text><rect transform="translate(83.20 22.75)" x="-2.6" y="-2.6" width="5.2" height="5.2" fill="#000"/><text x="96.50" y="25.65" font-family='"Liberation Serif", serif' font-size="14" font-weight="normal" font-style="normal" text-anchor="start" >bare AuSPE</text><circle transform="translate(83.20 39.97)" r="3" fill="#f00"/><text x="96.50" y="42.87" font-family='"Liberation Serif", serif' font-size="14" font-weight="normal" font-style="normal" text-anchor="start" >Ab</text><path transform="translate(83.20 57.19)" d="M0,-3.4 L3.3,2.6 L-3.3,2.6Z" fill="#00f"/><text x="96.50" y="60.09" font-family='"Liberation Serif", serif' font-size="14" font-weight="normal" font-style="normal" text-anchor="start" >BSA</text><path transform="translate(83.20 74.41)" d="M0,3.4 L3.3,-2.6 L-3.3,-2.6Z" fill="#f0f"/><text x="96.50" y="77.31" font-family='"Liberation Serif", serif' font-size="14" font-weight="normal" font-style="normal" text-anchor="start" ><tspan font-style="italic">E. coli</tspan></text><path transform="translate(83.20 91.63)" d="M0,-3.3 L2.85,-1.65 L2.85,1.65 L0,3.3 L-2.85,1.65 L-2.85,-1.65Z" fill="#800000"/><text x="96.50" y="94.53" font-family='"Liberation Serif", serif' font-size="14" font-weight="normal" font-style="normal" text-anchor="start" >Ab (II) 15 min</text><circle transform="translate(83.20 108.85)" r="2.9" fill="url(#sph)"/><text x="96.50" y="111.75" font-family='"Liberation Serif", serif' font-size="14" font-weight="normal" font-style="normal" text-anchor="start" >Ab (II) 30 min</text><path transform="translate(83.20 126.07)" d="M0,-3.1 L2.95,-0.96 L1.82,2.5 L-1.82,2.5 L-2.95,-0.96Z" fill="#008000"/><text x="96.50" y="128.97" font-family='"Liberation Serif", serif' font-size="14" font-weight="normal" font-style="normal" text-anchor="start" >Ab (II) 45 min</text><path transform="translate(83.20 143.29)" d="M3.4,0 L-2.6,3.3 L-2.6,-3.3Z" fill="#ff8000"/><text x="96.50" y="146.19" font-family='"Liberation Serif", serif' font-size="14" font-weight="normal" font-style="normal" text-anchor="start" >Ab (II) 60 min</text><path stroke="#111" stroke-width="1.6" fill="none" stroke-linejoin="miter" d="M189,80 L199.2,80 L202.7,76.2 L206.4,84 L210.5,76.2 L214.5,84 L218.8,76.2 L223,84 L226,80 L242.4,80"/><path stroke="#111" stroke-width="1.6" fill="none" stroke-linejoin="miter" d="M242.4,80 L242.4,64.9 L252.9,64.9 L254.8,61.4 L259.3,68.8 L263.8,61.4 L268.3,68.8 L272.8,61.4 L277.2,68.8 L279.7,64.9 L294.6,64.9"/><path stroke="#111" stroke-width="1.6" fill="none" stroke-linejoin="miter" d="M309.5,64.9 L324,64.9 L324,94.8 L284.3,94.8"/><path stroke="#111" stroke-width="1.6" fill="none" stroke-linejoin="miter" d="M242.4,80 L242.4,94.8 L278.1,94.8"/><path stroke="#111" stroke-width="1.6" fill="none" stroke-linejoin="miter" d="M324,80.2 L341,80.2"/><path stroke="#111" stroke-width="1.6" fill="none" stroke-linejoin="miter" d="M275.3,87 Q277.4,90.5 278.1,94.8 Q277.4,98.8 275.3,101.9"/><path stroke="#111" stroke-width="1.6" fill="none" stroke-linejoin="miter" d="M281.3,87 Q283.4,90.5 284.3,94.8 Q283.4,98.8 281.3,101.9"/><text x="302.00" y="70.80" font-family='"Liberation Sans", sans-serif' font-size="16.2" font-weight="bold" font-style="normal" text-anchor="middle" >W</text><text x="279.30" y="114.10" font-family='"Liberation Sans", sans-serif' font-size="9.6" font-weight="bold" font-style="normal" text-anchor="middle" >CPE</text><text x="208.6" y="70.7" font-family='"Liberation Sans", sans-serif' font-weight="bold" font-size="9.8">R<tspan font-size="7">s</tspan></text><text x="259" y="56.7" font-family='"Liberation Sans", sans-serif' font-weight="bold" font-size="10.4">R<tspan font-size="7.5">ct</tspan></text><rect x="451.6" y="8.4" width="296.60" height="238.60" fill="none" stroke="#222" stroke-width="1.3"/><line x1="446.60" y1="220.30" x2="451.60" y2="220.30" stroke="#222" stroke-width="1.2"/><text x="443.80" y="226.50" font-family='"Liberation Serif", serif' font-size="18" font-weight="normal" font-style="normal" text-anchor="end" >0</text><line x1="446.60" y1="187.14" x2="451.60" y2="187.14" stroke="#222" stroke-width="1.2"/><text x="443.80" y="193.34" font-family='"Liberation Serif", serif' font-size="18" font-weight="normal" font-style="normal" text-anchor="end" >5</text><line x1="446.60" y1="153.97" x2="451.60" y2="153.97" stroke="#222" stroke-width="1.2"/><text x="443.80" y="160.17" font-family='"Liberation Serif", serif' font-size="18" font-weight="normal" font-style="normal" text-anchor="end" >10</text><line x1="446.60" y1="120.81" x2="451.60" y2="120.81" stroke="#222" stroke-width="1.2"/><text x="443.80" y="127.01" font-family='"Liberation Serif", serif' font-size="18" font-weight="normal" font-style="normal" text-anchor="end" >15</text><line x1="446.60" y1="87.64" x2="451.60" y2="87.64" stroke="#222" stroke-width="1.2"/><text x="443.80" y="93.84" font-family='"Liberation Serif", serif' font-size="18" font-weight="normal" font-style="normal" text-anchor="end" >20</text><line x1="446.60" y1="54.48" x2="451.60" y2="54.48" stroke="#222" stroke-width="1.2"/><text x="443.80" y="60.68" font-family='"Liberation Serif", serif' font-size="18" font-weight="normal" font-style="normal" text-anchor="end" >25</text><line x1="446.60" y1="21.31" x2="451.60" y2="21.31" stroke="#222" stroke-width="1.2"/><text x="443.80" y="27.51" font-family='"Liberation Serif", serif' font-size="18" font-weight="normal" font-style="normal" text-anchor="end" >30</text><line x1="448.60" y1="236.88" x2="451.60" y2="236.88" stroke="#222" stroke-width="1.2"/><line x1="448.60" y1="203.72" x2="451.60" y2="203.72" stroke="#222" stroke-width="1.2"/><line x1="448.60" y1="170.55" x2="451.60" y2="170.55" stroke="#222" stroke-width="1.2"/><line x1="448.60" y1="137.39" x2="451.60" y2="137.39" stroke="#222" stroke-width="1.2"/><line x1="448.60" y1="104.22" x2="451.60" y2="104.22" stroke="#222" stroke-width="1.2"/><line x1="448.60" y1="71.06" x2="451.60" y2="71.06" stroke="#222" stroke-width="1.2"/><line x1="448.60" y1="37.89" x2="451.60" y2="37.89" stroke="#222" stroke-width="1.2"/><line x1="469.00" y1="247.00" x2="469.00" y2="252.00" stroke="#222" stroke-width="1.2"/><text x="469.00" y="269.00" font-family='"Liberation Serif", serif' font-size="18" font-weight="normal" font-style="normal" text-anchor="middle" >0</text><line x1="533.50" y1="247.00" x2="533.50" y2="252.00" stroke="#222" stroke-width="1.2"/><text x="533.50" y="269.00" font-family='"Liberation Serif", serif' font-size="18" font-weight="normal" font-style="normal" text-anchor="middle" >15</text><line x1="598.00" y1="247.00" x2="598.00" y2="252.00" stroke="#222" stroke-width="1.2"/><text x="598.00" y="269.00" font-family='"Liberation Serif", serif' font-size="18" font-weight="normal" font-style="normal" text-anchor="middle" >30</text><line x1="662.50" y1="247.00" x2="662.50" y2="252.00" stroke="#222" stroke-width="1.2"/><text x="662.50" y="269.00" font-family='"Liberation Serif", serif' font-size="18" font-weight="normal" font-style="normal" text-anchor="middle" >45</text><line x1="727.00" y1="247.00" x2="727.00" y2="252.00" stroke="#222" stroke-width="1.2"/><text x="727.00" y="269.00" font-family='"Liberation Serif", serif' font-size="18" font-weight="normal" font-style="normal" text-anchor="middle" >60</text><line x1="501.25" y1="247.00" x2="501.25" y2="250.00" stroke="#222" stroke-width="1.2"/><line x1="565.75" y1="247.00" x2="565.75" y2="250.00" stroke="#222" stroke-width="1.2"/><line x1="630.25" y1="247.00" x2="630.25" y2="250.00" stroke="#222" stroke-width="1.2"/><line x1="694.75" y1="247.00" x2="694.75" y2="250.00" stroke="#222" stroke-width="1.2"/><text x="599.00" y="293.50" font-family='"Liberation Serif", serif' font-size="22" font-weight="bold" font-style="normal" text-anchor="middle" >Time (min)</text><text x="474.50" y="34.00" font-family='"Liberation Serif", serif' font-size="25" font-weight="bold" font-style="normal" text-anchor="middle" >(b)</text><text transform="translate(413,127.5) rotate(-90)" font-family='"Liberation Serif", serif' font-size="21.3" font-weight="bold" text-anchor="middle">Δ<tspan font-style="italic">R</tspan><tspan font-style="italic" font-size="13.8" dy="6.5">ct</tspan><tspan font-style="italic" dy="-6.5">/R</tspan><tspan font-size="13.8" dy="6.5"><tspan font-style="italic">ct</tspan><tspan dx="2.6" font-size="13.8">(Ab)</tspan></tspan><tspan dy="-6.5" dx="0"> (%)</tspan></text><line x1="469.50" y1="207.03" x2="469.50" y2="233.57" stroke="#5a5a5a" stroke-width="1.1"/><line x1="466.80" y1="207.03" x2="472.20" y2="207.03" stroke="#5a5a5a" stroke-width="1.1"/><line x1="466.80" y1="233.57" x2="472.20" y2="233.57" stroke="#5a5a5a" stroke-width="1.1"/><rect x="466.40" y="217.70" width="5.2" height="5.2" fill="#000"/><line x1="533.50" y1="81.01" x2="533.50" y2="107.54" stroke="#5a5a5a" stroke-width="1.1"/><line x1="530.80" y1="81.01" x2="536.20" y2="81.01" stroke="#5a5a5a" stroke-width="1.1"/><line x1="530.80" y1="107.54" x2="536.20" y2="107.54" stroke="#5a5a5a" stroke-width="1.1"/><rect x="530.90" y="91.67" width="5.2" height="5.2" fill="#000"/><line x1="598.50" y1="41.21" x2="598.50" y2="67.74" stroke="#5a5a5a" stroke-width="1.1"/><line x1="595.80" y1="41.21" x2="601.20" y2="41.21" stroke="#5a5a5a" stroke-width="1.1"/><line x1="595.80" y1="67.74" x2="601.20" y2="67.74" stroke="#5a5a5a" stroke-width="1.1"/><rect x="595.40" y="51.88" width="5.2" height="5.2" fill="#000"/><line x1="662.50" y1="27.94" x2="662.50" y2="54.48" stroke="#5a5a5a" stroke-width="1.1"/><line x1="659.80" y1="27.94" x2="665.20" y2="27.94" stroke="#5a5a5a" stroke-width="1.1"/><line x1="659.80" y1="54.48" x2="665.20" y2="54.48" stroke="#5a5a5a" stroke-width="1.1"/><rect x="659.90" y="38.61" width="5.2" height="5.2" fill="#000"/><line x1="727.50" y1="21.31" x2="727.50" y2="47.84" stroke="#5a5a5a" stroke-width="1.1"/><line x1="724.80" y1="21.31" x2="730.20" y2="21.31" stroke="#5a5a5a" stroke-width="1.1"/><line x1="724.80" y1="47.84" x2="730.20" y2="47.84" stroke="#5a5a5a" stroke-width="1.1"/><rect x="724.40" y="31.98" width="5.2" height="5.2" fill="#000"/><path d="M461.82,243.51 L463.31,238.12 L464.81,232.88 L466.30,227.77 L467.79,222.79 L469.29,217.94 L470.78,213.21 L472.27,208.61 L473.77,204.12 L475.26,199.75 L476.75,195.49 L478.25,191.35 L479.74,187.31 L481.23,183.37 L482.73,179.54 L484.22,175.80 L485.71,172.16 L487.20,168.61 L488.70,165.16 L490.19,161.79 L491.68,158.52 L493.18,155.32 L494.67,152.21 L496.16,149.18 L497.66,146.23 L499.15,143.35 L500.64,140.55 L502.14,137.82 L503.63,135.16 L505.12,132.56 L506.62,130.04 L508.11,127.58 L509.60,125.18 L511.09,122.85 L512.59,120.57 L514.08,118.36 L515.57,116.20 L517.07,114.10 L518.56,112.05 L520.05,110.05 L521.55,108.11 L523.04,106.21 L524.53,104.37 L526.03,102.57 L527.52,100.82 L529.01,99.11 L530.51,97.45 L532.00,95.83 L533.49,94.25 L534.98,92.72 L536.48,91.22 L537.97,89.76 L539.46,88.34 L540.96,86.96 L542.45,85.61 L543.94,84.29 L545.44,83.01 L546.93,81.77 L548.42,80.55 L549.92,79.37 L551.41,78.21 L552.90,77.09 L554.39,76.00 L555.89,74.93 L557.38,73.89 L558.87,72.88 L560.37,71.89 L561.86,70.93 L563.35,70.00 L564.85,69.09 L566.34,68.20 L567.83,67.33 L569.33,66.49 L570.82,65.67 L572.31,64.87 L573.81,64.09 L575.30,63.33 L576.79,62.59 L578.28,61.87 L579.78,61.17 L581.27,60.48 L582.76,59.82 L584.26,59.17 L585.75,58.54 L587.24,57.92 L588.74,57.32 L590.23,56.73 L591.72,56.17 L593.22,55.61 L594.71,55.07 L596.20,54.54 L597.70,54.03 L599.19,53.53 L600.68,53.04 L602.17,52.57 L603.67,52.11 L605.16,51.66 L606.65,51.22 L608.15,50.79 L609.64,50.37 L611.13,49.97 L612.63,49.57 L614.12,49.19 L615.61,48.81 L617.11,48.45 L618.60,48.09 L620.09,47.74 L621.59,47.41 L623.08,47.08 L624.57,46.76 L626.06,46.44 L627.56,46.14 L629.05,45.84 L630.54,45.56 L632.04,45.27 L633.53,45.00 L635.02,44.73 L636.52,44.47 L638.01,44.22 L639.50,43.97 L641.00,43.73 L642.49,43.50 L643.98,43.27 L645.48,43.05 L646.97,42.83 L648.46,42.62 L649.95,42.41 L651.45,42.21 L652.94,42.02 L654.43,41.83 L655.93,41.64 L657.42,41.46 L658.91,41.29 L660.41,41.11 L661.90,40.95 L663.39,40.79 L664.89,40.63 L666.38,40.47 L667.87,40.32 L669.36,40.18 L670.86,40.03 L672.35,39.89 L673.84,39.76 L675.34,39.63 L676.83,39.50 L678.32,39.37 L679.82,39.25 L681.31,39.13 L682.80,39.02 L684.30,38.90 L685.79,38.79 L687.28,38.69 L688.78,38.58 L690.27,38.48 L691.76,38.38 L693.25,38.29 L694.75,38.19 L696.24,38.10 L697.73,38.01 L699.23,37.92 L700.72,37.84 L702.21,37.76 L703.71,37.68 L705.20,37.60 L706.69,37.52 L708.19,37.45 L709.68,37.38 L711.17,37.31 L712.67,37.24 L714.16,37.17 L715.65,37.10 L717.14,37.04 L718.64,36.98 L720.13,36.92 L721.62,36.86 L723.12,36.80 L724.61,36.75 L726.10,36.69 L727.60,36.64 L729.09,36.59 L730.58,36.54 L732.08,36.49 L733.57,36.44 L735.06,36.40 L736.56,36.35 L738.05,36.31 L739.54,36.26 L741.03,36.22 L742.53,36.18 L744.02,36.14 L745.51,36.10 L747.01,36.06 L748.50,36.03" fill="none" stroke="#c83c3c" stroke-width="0.85" clip-path="url(#rc)"/></svg></body></html>
